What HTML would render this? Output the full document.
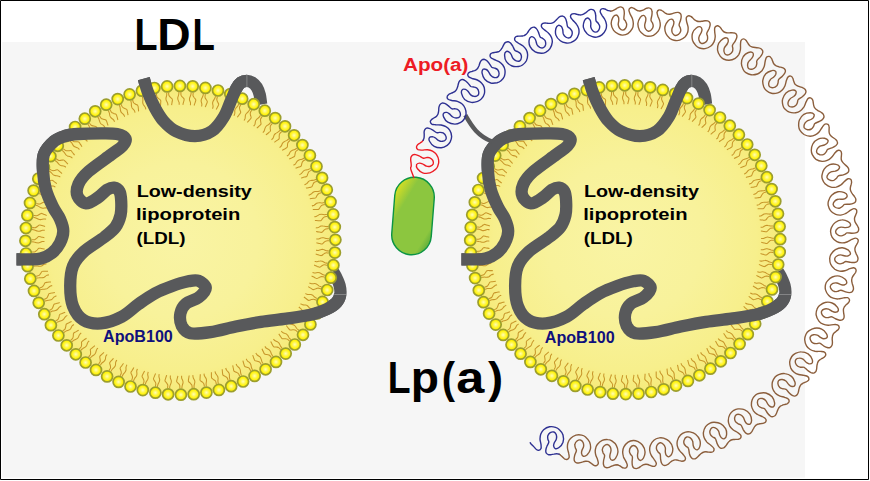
<!DOCTYPE html>
<html lang="en"><head><meta charset="utf-8"><title>LDL and Lp(a)</title>
<style>html,body{margin:0;padding:0;background:#fff}body{width:870px;height:481px;overflow:hidden}svg{display:block}text{font-family:"Liberation Sans",sans-serif;font-weight:bold}</style></head><body>
<svg width="870" height="481" viewBox="0 0 870 481">
<defs>
<radialGradient id="bead" cx="0.5" cy="0.5" r="0.5"><stop offset="0" stop-color="#fffcb8"/><stop offset="0.45" stop-color="#fff646"/><stop offset="0.8" stop-color="#fff200"/><stop offset="1" stop-color="#f2e600"/></radialGradient>
<radialGradient id="discL" cx="0.5" cy="0.5" r="0.5"><stop offset="0" stop-color="#f9f4a4"/><stop offset="0.5" stop-color="#f8f29b"/><stop offset="0.85" stop-color="#f7ef8c"/><stop offset="1" stop-color="#f6ea78"/></radialGradient>
<radialGradient id="discR" cx="0.5" cy="0.5" r="0.5"><stop offset="0" stop-color="#f9f4a4"/><stop offset="0.5" stop-color="#f8f29b"/><stop offset="0.85" stop-color="#f7ef8c"/><stop offset="1" stop-color="#f6ea78"/></radialGradient>
<linearGradient id="oval" x1="0" y1="0" x2="1" y2="1"><stop offset="0.05" stop-color="#e4e51c"/><stop offset="0.16" stop-color="#c0d72c"/><stop offset="0.3" stop-color="#8cc63f"/><stop offset="0.8" stop-color="#8cc63f"/><stop offset="0.95" stop-color="#4ea53b"/></linearGradient>
</defs>
<rect x="0" y="0" width="870" height="481" fill="#fff"/>
<rect x="2.3" y="42" width="802.7" height="435.6" fill="#f6f6f6"/>
<g>
<path d="M16.5 259.3C21 259.3 25.9 259.5 30 259.4C34.1 259.3 37.3 259.6 41 258.5C44.7 257.4 48.8 255.6 52 253C55.2 250.4 58.1 246.7 60 243C61.9 239.3 63.3 235 63.3 231C63.3 227 61.7 223 60 219C58.3 215 55.3 211.8 53 207C50.7 202.2 47.7 196.1 46 190C44.3 183.9 43.3 176.6 43 170.6C42.7 164.6 42.1 158.9 44 154C45.9 149.1 50.9 144 54.4 141C57.9 138 61.1 137.2 65 136C68.9 134.8 72 134.4 78 134C84 133.6 94.6 133.4 101.1 133.4C107.6 133.4 112.9 133.2 117 134C121.1 134.8 124.6 136.5 125.5 138.5C126.4 140.5 124.9 143.3 122.5 146C120.1 148.7 117 150.2 111.3 154.5C105.6 158.8 94 166.6 88.5 171.5C83 176.4 80.3 179.9 78.5 184C76.7 188.1 76.2 192.8 77.5 196C78.8 199.2 82.6 203.2 86 203.4C89.4 203.7 94.5 199.8 98 197.5C101.5 195.2 104.3 191.5 107 189.8C109.7 188.2 111.9 187.3 114 187.6C116.1 187.9 118.3 189.3 119.5 191.5C120.7 193.7 121 197.1 121.2 201C121.4 204.9 121.5 210.7 120.6 215C119.6 219.3 118.2 223.3 115.5 227C112.8 230.7 109.8 232.9 104.5 237C99.2 241.1 89.2 246.7 84 251.5C78.8 256.3 75.3 260.2 73 266C70.7 271.8 70.2 279.3 70.2 286C70.2 292.7 70.8 300.5 73 306.2C75.2 311.9 78.7 317.1 83.4 320C88.1 322.9 94.7 323.9 101.1 323.4C107.5 322.8 115.5 319.9 121.7 316.7C127.9 313.5 132.8 308.1 138.3 304.2C143.9 300.3 149.4 296.3 155 293.3C160.6 290.3 166.1 288.2 171.7 286.2C177.2 284.2 183.8 282.2 188.3 281.3C192.8 280.4 195.6 279.7 198.5 280.8C201.4 281.9 205.8 285.2 205.8 288C205.8 290.8 201.8 294.9 198.5 297.5C195.2 300.1 189 301 186 303.6C183 306.2 181.1 309.6 180.4 313.3C179.7 317 180.2 322.7 181.8 326C183.5 329.3 185.5 332.2 190.3 333.2C195.1 334.2 203 333.2 210.6 332.1C218.2 331 227.5 328.2 235.9 326.5C244.3 324.8 252.7 323.1 261.1 321.8C269.5 320.5 278 319.8 286.4 318.6C294.8 317.4 304.9 316.1 311.7 314.5C318.5 312.9 322.9 311 327 309C331.1 307 334.3 304.9 336.5 302.5C338.7 300.1 339.8 297.2 340.3 294.4C340.8 291.6 340.3 288.4 339.6 285.5C338.9 282.6 337.1 279 336 276.7C334.9 274.4 334 273.2 333 271.5" fill="none" stroke="#58595b" stroke-width="12.3"/>
<path d="M143.8 78.6C145.1 83.1 145.9 87.1 147.8 92C149.7 96.9 152.4 103.2 155 108C157.6 112.8 160 117.1 163.5 121C167 124.9 170.8 128.8 176 131.3C181.2 133.8 189 136.2 195 136.2C201 136.1 207.2 134.2 212 131C216.8 127.8 220.7 122 223.8 117C226.9 112 228.7 105.8 230.8 101C232.9 96.2 234.6 91.6 236.3 88.5C238 85.4 239.2 83.9 241 82.6C242.8 81.3 245 80.8 246.8 80.8C248.6 80.8 250.3 81.3 252 82.4C253.7 83.5 255.5 85.2 256.8 87.3C258.1 89.4 259.1 92.1 259.8 95C260.5 97.9 260.7 101.3 261.2 104.5" fill="none" stroke="#58595b" stroke-width="12.3"/>
<ellipse cx="180.4" cy="240.3" rx="155" ry="154.4" fill="url(#discL)"/>
<path d="M329.2 238.8C328.3 238.8 327.6 238.8 326.7 238.6C325.8 238.5 324.6 237.9 323.8 237.8C322.9 237.6 322.5 237.6 321.7 237.8C320.8 238 319.6 238.7 318.8 239C317.9 239.2 317.1 239 316.3 239.1M329.2 240.8C328.2 240.9 327 240.7 326.2 240.9C325.3 241.1 324.8 241.7 324.2 242.2C323.5 242.8 322.9 243.7 322.2 244C321.4 244.2 320.6 243.8 319.7 243.6C318.7 243.4 317.5 243 316.4 242.8M328.8 251.1C328 250.9 327.2 250.9 326.3 250.7C325.4 250.4 324.3 249.8 323.5 249.6C322.7 249.3 322.2 249.3 321.4 249.4C320.5 249.5 319.3 250.2 318.4 250.4C317.5 250.5 316.8 250.3 316 250.3M328.6 253.1C327.6 253 326.5 252.7 325.6 252.9C324.8 253.1 324.2 253.6 323.5 254.1C322.8 254.5 322.2 255.5 321.4 255.6C320.6 255.8 319.9 255.3 318.9 255C318 254.7 316.8 254.3 315.7 254M327.4 263.3C326.6 263.1 325.8 263 325 262.7C324.1 262.3 323 261.6 322.2 261.3C321.4 261 321 260.9 320.1 261C319.3 261 318 261.6 317.1 261.7C316.2 261.7 315.5 261.5 314.7 261.4M327.1 265.2C326.1 265.1 325 264.7 324.1 264.8C323.2 264.9 322.6 265.4 321.9 265.8C321.2 266.2 320.4 267.1 319.6 267.2C318.9 267.3 318.2 266.7 317.2 266.4C316.3 266 315.1 265.5 314.1 265M325 275.3C324.2 275 323.4 274.9 322.6 274.5C321.8 274.1 320.8 273.2 320 272.9C319.2 272.6 318.8 272.4 318 272.4C317.1 272.4 315.8 272.9 314.8 272.9C313.9 272.8 313.3 272.5 312.5 272.4M324.5 277.2C323.5 277 322.4 276.5 321.6 276.5C320.7 276.6 320.1 277 319.3 277.4C318.5 277.7 317.7 278.5 316.9 278.5C316.2 278.6 315.5 278 314.6 277.5C313.7 277.1 312.6 276.5 311.6 276M321.6 287.1C320.8 286.7 320.1 286.5 319.3 286.1C318.5 285.6 317.6 284.7 316.8 284.3C316.1 283.9 315.7 283.7 314.8 283.6C314 283.5 312.6 283.9 311.7 283.8C310.8 283.7 310.2 283.4 309.4 283.1M321 288.9C320 288.6 319 288.1 318.1 288C317.2 288 316.6 288.4 315.8 288.7C315 288.9 314.1 289.7 313.3 289.6C312.5 289.6 311.9 288.9 311.1 288.4C310.2 287.9 309.1 287.2 308.2 286.6M317.2 298.5C316.5 298.1 315.8 297.9 315 297.3C314.3 296.8 313.4 295.8 312.7 295.3C312 294.9 311.6 294.7 310.8 294.5C309.9 294.4 308.5 294.6 307.6 294.5C306.7 294.3 306.1 293.9 305.4 293.6M316.4 300.3C315.5 300 314.5 299.3 313.7 299.2C312.8 299.1 312.1 299.4 311.3 299.6C310.5 299.8 309.5 300.5 308.8 300.4C308 300.3 307.4 299.6 306.6 299C305.8 298.5 304.8 297.7 303.9 297M311.9 309.6C311.2 309.1 310.5 308.8 309.8 308.2C309.1 307.6 308.4 306.6 307.7 306C307 305.5 306.7 305.3 305.8 305.1C305 304.8 303.6 305 302.7 304.7C301.8 304.5 301.3 304 300.5 303.7M311 311.3C310.1 310.9 309.2 310.1 308.3 310C307.5 309.8 306.8 310.1 305.9 310.2C305.1 310.3 304.1 310.9 303.4 310.8C302.6 310.6 302.1 309.9 301.3 309.2C300.6 308.6 299.6 307.7 298.8 307M305.8 320.2C305.1 319.7 304.4 319.3 303.8 318.6C303.1 318 302.4 316.9 301.8 316.3C301.2 315.7 300.9 315.4 300 315.2C299.2 314.9 297.8 314.9 297 314.6C296.1 314.3 295.6 313.8 294.9 313.4M304.7 321.8C303.8 321.3 302.9 320.5 302.1 320.2C301.3 320 300.5 320.2 299.7 320.3C298.9 320.4 297.8 320.9 297.1 320.6C296.3 320.4 295.9 319.6 295.2 318.9C294.5 318.2 293.6 317.3 292.9 316.5M298.7 330.2C298.1 329.6 297.5 329.2 296.8 328.5C296.2 327.8 295.7 326.7 295.1 326C294.5 325.4 294.2 325.1 293.4 324.7C292.7 324.4 291.2 324.3 290.4 323.9C289.6 323.6 289.1 323 288.4 322.5M297.5 331.8C296.7 331.2 295.9 330.3 295.1 330C294.3 329.7 293.5 329.8 292.7 329.8C291.8 329.8 290.8 330.2 290 330C289.3 329.7 288.9 328.9 288.3 328.1C287.7 327.4 286.9 326.3 286.2 325.5M290.9 339.6C290.3 339 289.7 338.5 289.1 337.8C288.6 337.1 288.1 335.8 287.6 335.2C287.1 334.5 286.8 334.2 286 333.8C285.3 333.3 283.9 333.1 283.1 332.7C282.3 332.3 281.9 331.7 281.3 331.1M289.5 341.1C288.8 340.4 288 339.5 287.3 339.1C286.5 338.7 285.7 338.8 284.9 338.8C284 338.7 282.9 339 282.2 338.7C281.5 338.3 281.2 337.5 280.7 336.7C280.1 335.9 279.4 334.8 278.8 333.9M282.2 348.4C281.7 347.7 281.2 347.2 280.7 346.4C280.2 345.6 279.8 344.4 279.4 343.7C278.9 343 278.7 342.6 277.9 342.1C277.2 341.7 275.8 341.3 275.1 340.8C274.3 340.3 273.9 339.7 273.4 339.1M280.8 349.7C280.1 349 279.4 348 278.7 347.6C278 347.1 277.2 347.2 276.3 347C275.5 346.9 274.4 347.1 273.7 346.7C273.1 346.3 272.8 345.5 272.3 344.6C271.8 343.8 271.2 342.6 270.7 341.6M272.9 356.4C272.5 355.7 272 355.1 271.6 354.3C271.1 353.5 270.9 352.2 270.5 351.5C270.1 350.7 269.8 350.3 269.2 349.8C268.5 349.3 267.1 348.8 266.4 348.3C265.7 347.7 265.4 347.1 264.9 346.4M271.4 357.6C270.7 356.8 270.2 355.8 269.5 355.3C268.8 354.8 268 354.8 267.2 354.6C266.4 354.3 265.2 354.5 264.6 354C264 353.6 263.8 352.7 263.4 351.8C262.9 350.9 262.4 349.8 262 348.7M263 363.6C262.6 362.9 262.1 362.3 261.8 361.4C261.5 360.6 261.3 359.3 260.9 358.5C260.6 357.7 260.4 357.3 259.8 356.7C259.2 356.2 257.9 355.6 257.2 355C256.5 354.4 256.3 353.7 255.8 353M261.3 364.7C260.8 363.9 260.3 362.8 259.6 362.2C259 361.7 258.2 361.6 257.4 361.3C256.6 361 255.5 361.1 254.9 360.6C254.3 360.1 254.2 359.2 253.8 358.3C253.5 357.3 253.1 356.1 252.7 355.1M252.5 370C252.2 369.2 251.7 368.6 251.5 367.7C251.2 366.8 251.1 365.5 250.9 364.7C250.6 363.9 250.4 363.5 249.9 362.9C249.3 362.2 248 361.6 247.4 360.9C246.8 360.2 246.6 359.5 246.2 358.9M250.7 370.9C250.3 370.1 249.9 369 249.3 368.3C248.7 367.7 247.9 367.6 247.1 367.2C246.4 366.9 245.2 366.8 244.7 366.3C244.1 365.7 244.1 364.8 243.8 363.9C243.5 363 243.2 361.7 242.9 360.6M241.5 375.5C241.2 374.7 240.9 374 240.7 373.1C240.5 372.2 240.5 370.9 240.3 370.1C240.1 369.3 240 368.9 239.5 368.2C239 367.5 237.8 366.7 237.2 366C236.6 365.3 236.5 364.6 236.1 363.9M239.7 376.3C239.3 375.4 239 374.2 238.4 373.6C237.9 372.9 237.1 372.7 236.4 372.3C235.6 371.9 234.5 371.7 234 371.1C233.5 370.5 233.6 369.7 233.4 368.7C233.1 367.7 233 366.5 232.7 365.4M230.1 380C229.9 379.2 229.6 378.5 229.5 377.6C229.3 376.7 229.5 375.4 229.4 374.6C229.2 373.8 229.1 373.3 228.7 372.6C228.2 371.9 227.1 371 226.6 370.3C226.1 369.5 226 368.8 225.7 368M228.2 380.7C227.9 379.8 227.7 378.6 227.2 377.9C226.7 377.2 225.9 376.9 225.2 376.4C224.5 376 223.4 375.7 223 375.1C222.5 374.5 222.7 373.6 222.5 372.6C222.4 371.6 222.3 370.4 222.2 369.2M218.3 383.7C218.2 382.8 218 382.1 217.9 381.2C217.9 380.3 218.1 379 218.1 378.2C218 377.3 217.9 376.9 217.5 376.1C217.1 375.4 216.1 374.4 215.7 373.6C215.2 372.8 215.2 372.1 215 371.3M216.4 384.2C216.1 383.2 216 382 215.6 381.3C215.2 380.5 214.5 380.2 213.8 379.7C213.1 379.1 212.1 378.8 211.7 378.1C211.3 377.5 211.5 376.6 211.4 375.6C211.4 374.6 211.4 373.4 211.4 372.2M206.3 386.3C206.3 385.5 206.1 384.7 206.1 383.8C206.1 382.9 206.5 381.6 206.5 380.8C206.5 379.9 206.5 379.5 206.2 378.7C205.8 377.9 204.9 376.9 204.5 376.1C204.1 375.2 204.2 374.5 204 373.7M204.4 386.6C204.2 385.6 204.2 384.5 203.8 383.7C203.4 382.9 202.8 382.5 202.1 381.9C201.5 381.4 200.5 381 200.1 380.2C199.8 379.5 200.1 378.7 200.1 377.7C200.1 376.7 200.3 375.5 200.3 374.3M194.1 387.9C194.1 387.1 194 386.3 194.1 385.4C194.2 384.5 194.7 383.3 194.8 382.5C194.9 381.6 194.9 381.2 194.6 380.4C194.3 379.6 193.4 378.4 193.2 377.6C192.9 376.7 193 376 192.8 375.2M192.2 388.1C192.1 387.1 192.2 385.9 191.8 385.1C191.5 384.3 190.9 383.9 190.3 383.2C189.8 382.6 188.7 382.1 188.5 381.4C188.2 380.7 188.5 379.9 188.6 378.9C188.8 377.9 189 376.6 189.2 375.5M181.9 388.6C181.9 387.7 181.9 387 182.1 386.1C182.2 385.2 182.8 384 183 383.2C183.1 382.3 183.1 381.9 182.9 381.1C182.7 380.2 182 379 181.7 378.2C181.5 377.3 181.7 376.6 181.6 375.8M179.9 388.6C179.8 387.6 180 386.4 179.8 385.6C179.6 384.7 179 384.2 178.5 383.6C177.9 382.9 177 382.3 176.7 381.6C176.5 380.8 176.9 380 177.1 379.1C177.3 378.1 177.7 376.9 177.9 375.8M169.6 388.2C169.7 387.3 169.7 386.6 170 385.7C170.2 384.8 170.9 383.7 171.1 382.9C171.3 382.1 171.4 381.6 171.3 380.8C171.1 379.9 170.5 378.7 170.3 377.8C170.2 376.9 170.4 376.2 170.4 375.4M167.6 388C167.6 387 167.9 385.9 167.8 385C167.6 384.2 167 383.6 166.6 382.9C166.1 382.2 165.2 381.6 165 380.8C164.9 380 165.4 379.3 165.6 378.3C165.9 377.4 166.4 376.2 166.7 375.1M157.4 386.8C157.6 386 157.6 385.2 158 384.3C158.3 383.5 159 382.4 159.3 381.6C159.6 380.8 159.7 380.4 159.7 379.6C159.6 378.7 159 377.4 158.9 376.5C158.9 375.6 159.1 374.9 159.2 374.1M155.4 386.4C155.5 385.5 155.9 384.3 155.8 383.5C155.7 382.6 155.2 382 154.8 381.3C154.4 380.6 153.6 379.8 153.5 379C153.4 378.3 153.9 377.6 154.3 376.6C154.6 375.7 155.1 374.6 155.6 373.5M145.3 384.4C145.6 383.6 145.7 382.8 146.1 382C146.5 381.2 147.3 380.2 147.7 379.4C148 378.6 148.2 378.2 148.2 377.4C148.2 376.5 147.7 375.2 147.7 374.3C147.7 373.4 148.1 372.7 148.2 371.9M143.4 383.9C143.6 382.9 144.1 381.8 144 381C144 380.1 143.5 379.5 143.2 378.7C142.9 377.9 142.1 377.1 142.1 376.4C142 375.6 142.6 374.9 143 374C143.5 373.1 144.1 372 144.6 371M133.5 381C133.8 380.2 134 379.5 134.5 378.7C134.9 377.9 135.9 377 136.3 376.2C136.7 375.5 136.9 375.1 136.9 374.3C137 373.4 136.7 372 136.7 371.1C136.8 370.2 137.2 369.6 137.4 368.8M131.6 380.4C131.9 379.4 132.5 378.4 132.5 377.5C132.6 376.6 132.1 376 131.9 375.2C131.6 374.4 130.9 373.5 130.9 372.7C130.9 372 131.6 371.3 132.1 370.5C132.6 369.6 133.3 368.6 133.9 367.6M122 376.7C122.4 375.9 122.6 375.2 123.2 374.4C123.7 373.7 124.7 372.8 125.1 372.1C125.6 371.4 125.8 371.1 126 370.2C126.1 369.4 125.9 368 126 367.1C126.2 366.2 126.6 365.6 126.9 364.8M120.1 375.9C120.5 374.9 121.2 373.9 121.3 373.1C121.4 372.2 121.1 371.5 120.9 370.7C120.7 369.9 120 369 120.1 368.2C120.2 367.4 120.9 366.9 121.5 366.1C122 365.3 122.8 364.3 123.5 363.4M110.9 371.4C111.3 370.7 111.7 370 112.2 369.3C112.8 368.6 113.9 367.8 114.4 367.1C114.9 366.5 115.2 366.1 115.4 365.3C115.6 364.5 115.5 363.1 115.7 362.2C116 361.3 116.4 360.7 116.8 360M109.1 370.4C109.6 369.5 110.3 368.6 110.5 367.8C110.7 366.9 110.4 366.2 110.3 365.4C110.1 364.5 109.5 363.6 109.7 362.8C109.9 362 110.6 361.6 111.2 360.8C111.9 360 112.8 359.1 113.5 358.3M100.3 365.2C100.8 364.6 101.1 363.9 101.8 363.2C102.4 362.6 103.5 361.9 104.1 361.3C104.7 360.7 105 360.3 105.3 359.5C105.6 358.7 105.5 357.3 105.8 356.4C106.1 355.6 106.7 355.1 107.1 354.4M98.6 364.1C99.1 363.3 99.9 362.4 100.2 361.6C100.4 360.8 100.2 360 100.1 359.2C100.1 358.3 99.6 357.3 99.8 356.6C100 355.8 100.8 355.4 101.5 354.7C102.2 354 103.1 353.1 104 352.4M90.2 358.2C90.7 357.6 91.2 356.9 91.9 356.3C92.6 355.7 93.7 355.2 94.4 354.6C95 354 95.3 353.7 95.6 352.9C96 352.2 96.1 350.7 96.5 349.9C96.8 349.1 97.4 348.6 97.9 348M88.6 357C89.2 356.2 90.1 355.4 90.4 354.6C90.7 353.8 90.5 353 90.6 352.2C90.6 351.3 90.1 350.3 90.4 349.5C90.7 348.8 91.5 348.5 92.3 347.8C93 347.2 94.1 346.4 94.9 345.7M80.7 350.4C81.3 349.8 81.8 349.2 82.6 348.7C83.3 348.1 84.5 347.6 85.2 347.1C85.9 346.6 86.2 346.3 86.6 345.6C87 344.8 87.2 343.4 87.7 342.6C88.1 341.8 88.7 341.4 89.2 340.8M79.2 349C79.9 348.3 80.8 347.5 81.2 346.8C81.6 346 81.5 345.2 81.6 344.4C81.7 343.6 81.3 342.5 81.7 341.8C82 341.1 82.9 340.8 83.7 340.2C84.5 339.6 85.6 338.9 86.5 338.3M71.9 341.8C72.6 341.3 73.1 340.7 73.9 340.2C74.7 339.8 75.9 339.4 76.7 338.9C77.4 338.5 77.7 338.2 78.2 337.5C78.7 336.8 79 335.4 79.5 334.7C80 333.9 80.6 333.5 81.2 332.9M70.6 340.3C71.3 339.6 72.3 339 72.7 338.2C73.2 337.5 73.2 336.7 73.3 335.9C73.4 335.1 73.2 334 73.6 333.3C74 332.6 74.9 332.4 75.7 331.9C76.6 331.4 77.7 330.8 78.7 330.2M63.9 332.5C64.6 332.1 65.2 331.5 66 331.1C66.8 330.7 68.1 330.4 68.8 330.1C69.6 329.7 70 329.4 70.5 328.8C71 328.1 71.5 326.7 72 326C72.6 325.3 73.3 325 73.9 324.5M62.7 330.9C63.4 330.3 64.5 329.8 65 329.1C65.5 328.4 65.5 327.6 65.7 326.8C66 325.9 65.8 324.8 66.3 324.2C66.7 323.6 67.6 323.4 68.5 323C69.4 322.5 70.6 322 71.6 321.6M56.6 322.6C57.4 322.2 58 321.7 58.9 321.4C59.7 321.1 61 320.9 61.8 320.6C62.6 320.2 62.9 320 63.5 319.4C64.1 318.8 64.7 317.5 65.3 316.8C65.9 316.2 66.6 315.9 67.3 315.4M55.5 320.9C56.4 320.4 57.5 319.9 58 319.3C58.6 318.6 58.7 317.8 59 317C59.2 316.2 59.2 315.1 59.7 314.5C60.2 313.9 61.1 313.8 62 313.5C62.9 313.1 64.2 312.7 65.2 312.3M50.3 312.1C51 311.8 51.7 311.4 52.5 311.1C53.4 310.9 54.7 310.8 55.5 310.5C56.3 310.3 56.7 310.1 57.4 309.5C58 309 58.7 307.7 59.4 307.1C60 306.5 60.7 306.3 61.4 305.9M49.3 310.4C50.2 309.9 51.3 309.5 51.9 308.9C52.5 308.3 52.7 307.5 53 306.8C53.4 306 53.4 304.9 54 304.3C54.5 303.8 55.4 303.8 56.4 303.5C57.3 303.2 58.6 302.9 59.7 302.6M44.7 301.2C45.5 300.9 46.2 300.6 47.1 300.4C48 300.2 49.3 300.2 50.1 300C51 299.8 51.4 299.7 52.1 299.2C52.7 298.6 53.5 297.5 54.2 296.9C55 296.3 55.7 296.2 56.4 295.8M43.9 299.4C44.8 298.9 46 298.7 46.7 298.1C47.3 297.6 47.5 296.8 47.9 296.1C48.4 295.3 48.5 294.2 49.1 293.7C49.7 293.2 50.6 293.3 51.5 293.1C52.5 292.8 53.8 292.7 54.9 292.5M40.2 289.8C41 289.6 41.7 289.3 42.6 289.2C43.5 289.1 44.8 289.2 45.6 289.1C46.5 289 46.9 288.9 47.6 288.4C48.3 287.9 49.2 286.8 50 286.3C50.7 285.8 51.5 285.7 52.2 285.4M39.5 287.9C40.4 287.6 41.6 287.4 42.3 286.9C43 286.4 43.3 285.7 43.8 285C44.2 284.3 44.5 283.2 45.1 282.7C45.8 282.3 46.6 282.4 47.6 282.3C48.6 282.1 49.9 282.1 51 281.9M36.5 278.1C37.4 278 38.1 277.7 39 277.7C39.9 277.6 41.2 277.9 42.1 277.8C42.9 277.8 43.3 277.7 44.1 277.3C44.8 276.9 45.8 275.9 46.6 275.4C47.4 275 48.1 275 48.9 274.7M36 276.2C37 275.9 38.2 275.8 38.9 275.4C39.7 275 40 274.2 40.5 273.6C41.1 272.9 41.4 271.8 42.1 271.4C42.7 271 43.6 271.2 44.6 271.2C45.6 271.2 46.9 271.2 48 271.2M33.9 266.1C34.7 266.1 35.5 265.9 36.4 265.9C37.3 266 38.6 266.3 39.4 266.3C40.3 266.3 40.7 266.3 41.5 266C42.3 265.6 43.3 264.7 44.2 264.3C45 263.9 45.7 264 46.5 263.8M33.6 264.2C34.5 264 35.7 264 36.5 263.6C37.3 263.3 37.7 262.6 38.3 262C38.8 261.3 39.2 260.3 40 259.9C40.7 259.6 41.5 259.9 42.5 259.9C43.5 260 44.8 260.1 45.9 260.2M32.2 254C33.1 254 33.8 253.9 34.8 254C35.7 254.1 36.9 254.6 37.7 254.6C38.6 254.7 39 254.7 39.8 254.5C40.7 254.2 41.8 253.3 42.6 253C43.5 252.7 44.2 252.8 45 252.7M32.1 252C33.1 251.9 34.3 252 35.1 251.7C35.9 251.4 36.3 250.8 37 250.2C37.6 249.6 38.1 248.6 38.8 248.3C39.5 248 40.4 248.4 41.3 248.5C42.3 248.6 43.6 248.9 44.7 249M31.6 241.8C32.5 241.8 33.2 241.8 34.1 242C35 242.1 36.2 242.7 37 242.8C37.9 243 38.3 243 39.1 242.8C40 242.6 41.2 241.9 42 241.6C42.9 241.4 43.7 241.6 44.5 241.5M31.6 239.8C32.6 239.7 33.8 239.9 34.6 239.7C35.5 239.5 36 238.9 36.6 238.4C37.3 237.8 37.9 236.9 38.6 236.6C39.4 236.4 40.2 236.8 41.1 237C42.1 237.2 43.3 237.6 44.4 237.8M32 229.5C32.8 229.7 33.6 229.7 34.5 229.9C35.4 230.2 36.5 230.8 37.3 231C38.1 231.3 38.6 231.3 39.4 231.2C40.3 231.1 41.5 230.4 42.4 230.2C43.3 230.1 44 230.3 44.8 230.3M32.2 227.5C33.2 227.6 34.3 227.9 35.2 227.7C36 227.5 36.6 227 37.3 226.5C38 226.1 38.6 225.1 39.4 225C40.2 224.8 40.9 225.3 41.9 225.6C42.8 225.9 44 226.3 45.1 226.6M33.4 217.3C34.2 217.5 35 217.6 35.8 217.9C36.7 218.3 37.8 219 38.6 219.3C39.4 219.6 39.8 219.7 40.7 219.6C41.5 219.6 42.8 219 43.7 218.9C44.6 218.9 45.3 219.1 46.1 219.2M33.7 215.4C34.7 215.5 35.8 215.9 36.7 215.8C37.6 215.7 38.2 215.2 38.9 214.8C39.6 214.4 40.4 213.5 41.2 213.4C41.9 213.3 42.6 213.9 43.6 214.2C44.5 214.6 45.7 215.1 46.7 215.6M35.8 205.3C36.6 205.6 37.4 205.7 38.2 206.1C39 206.5 40 207.4 40.8 207.7C41.6 208 42 208.2 42.8 208.2C43.7 208.2 45 207.7 46 207.7C46.9 207.8 47.5 208.1 48.3 208.2M36.3 203.4C37.3 203.6 38.4 204.1 39.2 204.1C40.1 204 40.7 203.6 41.5 203.2C42.3 202.9 43.1 202.1 43.9 202.1C44.6 202 45.3 202.6 46.2 203.1C47.1 203.5 48.2 204.1 49.2 204.6M39.2 193.5C40 193.9 40.7 194.1 41.5 194.5C42.3 195 43.2 195.9 44 196.3C44.7 196.7 45.1 196.9 46 197C46.8 197.1 48.2 196.7 49.1 196.8C50 196.9 50.6 197.2 51.4 197.5M39.8 191.7C40.8 192 41.8 192.5 42.7 192.6C43.6 192.6 44.2 192.2 45 191.9C45.8 191.7 46.7 190.9 47.5 191C48.3 191 48.9 191.7 49.7 192.2C50.6 192.7 51.7 193.4 52.6 194M43.6 182.1C44.3 182.5 45 182.7 45.8 183.3C46.5 183.8 47.4 184.8 48.1 185.3C48.8 185.7 49.2 185.9 50 186.1C50.9 186.2 52.3 186 53.2 186.1C54.1 186.3 54.7 186.7 55.4 187M44.4 180.3C45.3 180.6 46.3 181.3 47.1 181.4C48 181.5 48.7 181.2 49.5 181C50.3 180.8 51.3 180.1 52 180.2C52.8 180.3 53.4 181 54.2 181.6C55 182.1 56 182.9 56.9 183.6M48.9 171C49.6 171.5 50.3 171.8 51 172.4C51.7 173 52.4 174 53.1 174.6C53.8 175.1 54.1 175.3 55 175.5C55.8 175.8 57.2 175.6 58.1 175.9C59 176.1 59.5 176.6 60.3 176.9M49.8 169.3C50.7 169.7 51.6 170.5 52.5 170.6C53.3 170.8 54 170.5 54.9 170.4C55.7 170.3 56.7 169.7 57.4 169.8C58.2 170 58.7 170.7 59.5 171.4C60.2 172 61.2 172.9 62 173.6M55 160.4C55.7 160.9 56.4 161.3 57 162C57.7 162.6 58.4 163.7 59 164.3C59.6 164.9 59.9 165.2 60.8 165.4C61.6 165.7 63 165.7 63.8 166C64.7 166.3 65.2 166.8 65.9 167.2M56.1 158.8C57 159.3 57.9 160.1 58.7 160.4C59.5 160.6 60.3 160.4 61.1 160.3C61.9 160.2 63 159.7 63.7 160C64.5 160.2 64.9 161 65.6 161.7C66.3 162.4 67.2 163.3 67.9 164.1M62.1 150.4C62.7 151 63.3 151.4 64 152.1C64.6 152.8 65.1 153.9 65.7 154.6C66.3 155.2 66.6 155.5 67.4 155.9C68.1 156.2 69.6 156.3 70.4 156.7C71.2 157 71.7 157.6 72.4 158.1M63.3 148.8C64.1 149.4 64.9 150.3 65.7 150.6C66.5 150.9 67.3 150.8 68.1 150.8C69 150.8 70 150.4 70.8 150.6C71.5 150.9 71.9 151.7 72.5 152.5C73.1 153.2 73.9 154.3 74.6 155.1M69.9 141C70.5 141.6 71.1 142.1 71.7 142.8C72.2 143.5 72.7 144.8 73.2 145.4C73.7 146.1 74 146.4 74.8 146.8C75.5 147.3 76.9 147.5 77.7 147.9C78.5 148.3 78.9 148.9 79.5 149.5M71.3 139.5C72 140.2 72.8 141.1 73.5 141.5C74.3 141.9 75.1 141.8 75.9 141.8C76.8 141.9 77.9 141.6 78.6 141.9C79.3 142.3 79.6 143.1 80.1 143.9C80.7 144.7 81.4 145.8 82 146.7M78.6 132.2C79.1 132.9 79.6 133.4 80.1 134.2C80.6 135 81 136.2 81.4 136.9C81.9 137.6 82.1 138 82.9 138.5C83.6 138.9 85 139.3 85.7 139.8C86.5 140.3 86.9 140.9 87.4 141.5M80 130.9C80.7 131.6 81.4 132.6 82.1 133C82.8 133.5 83.6 133.4 84.5 133.6C85.3 133.7 86.4 133.5 87.1 133.9C87.7 134.3 88 135.1 88.5 136C89 136.8 89.6 138 90.1 139M87.9 124.2C88.3 124.9 88.8 125.5 89.2 126.3C89.7 127.1 89.9 128.4 90.3 129.1C90.7 129.9 91 130.3 91.6 130.8C92.3 131.3 93.7 131.8 94.4 132.3C95.1 132.9 95.4 133.5 95.9 134.2M89.4 123C90.1 123.8 90.6 124.8 91.3 125.3C92 125.8 92.8 125.8 93.6 126C94.4 126.3 95.6 126.1 96.2 126.6C96.8 127 97 127.9 97.4 128.8C97.9 129.7 98.4 130.8 98.8 131.9M97.8 117C98.2 117.7 98.7 118.3 99 119.2C99.3 120 99.5 121.3 99.9 122.1C100.2 122.9 100.4 123.3 101 123.9C101.6 124.4 102.9 125 103.6 125.6C104.3 126.2 104.5 126.9 105 127.6M99.5 115.9C100 116.7 100.5 117.8 101.2 118.4C101.8 118.9 102.6 119 103.4 119.3C104.2 119.6 105.3 119.5 105.9 120C106.5 120.5 106.6 121.4 107 122.3C107.3 123.3 107.7 124.5 108.1 125.5M108.3 110.6C108.6 111.4 109.1 112 109.3 112.9C109.6 113.8 109.7 115.1 109.9 115.9C110.2 116.7 110.4 117.1 110.9 117.7C111.5 118.4 112.8 119 113.4 119.7C114 120.4 114.2 121.1 114.6 121.7M110.1 109.7C110.5 110.5 110.9 111.6 111.5 112.3C112.1 112.9 112.9 113 113.7 113.4C114.4 113.7 115.6 113.8 116.1 114.3C116.7 114.9 116.7 115.8 117 116.7C117.3 117.6 117.6 118.9 117.9 120M119.3 105.1C119.6 105.9 119.9 106.6 120.1 107.5C120.3 108.4 120.3 109.7 120.5 110.5C120.7 111.3 120.8 111.7 121.3 112.4C121.8 113.1 123 113.9 123.6 114.6C124.2 115.3 124.3 116 124.7 116.7M121.1 104.3C121.5 105.2 121.8 106.4 122.4 107C122.9 107.7 123.7 107.9 124.4 108.3C125.2 108.7 126.3 108.9 126.8 109.5C127.3 110.1 127.2 110.9 127.4 111.9C127.7 112.9 127.8 114.1 128.1 115.2M130.7 100.6C130.9 101.4 131.2 102.1 131.3 103C131.5 103.9 131.3 105.2 131.4 106C131.6 106.8 131.7 107.3 132.1 108C132.6 108.7 133.7 109.6 134.2 110.3C134.7 111.1 134.8 111.8 135.1 112.6M132.6 99.9C132.9 100.8 133.1 102 133.6 102.7C134.1 103.4 134.9 103.7 135.6 104.2C136.3 104.6 137.4 104.9 137.8 105.5C138.3 106.1 138.1 107 138.3 108C138.4 109 138.5 110.2 138.6 111.4M142.5 96.9C142.6 97.8 142.8 98.5 142.9 99.4C142.9 100.3 142.7 101.6 142.7 102.4C142.8 103.3 142.9 103.7 143.3 104.5C143.7 105.2 144.7 106.2 145.1 107C145.6 107.8 145.6 108.5 145.8 109.3M144.4 96.4C144.7 97.4 144.8 98.6 145.2 99.3C145.6 100.1 146.3 100.4 147 100.9C147.7 101.5 148.7 101.8 149.1 102.5C149.5 103.1 149.3 104 149.4 105C149.4 106 149.4 107.2 149.4 108.4M154.5 94.3C154.5 95.1 154.7 95.9 154.7 96.8C154.7 97.7 154.3 99 154.3 99.8C154.3 100.7 154.3 101.1 154.6 101.9C155 102.7 155.9 103.7 156.3 104.5C156.7 105.4 156.6 106.1 156.8 106.9M156.4 94C156.6 95 156.6 96.1 157 96.9C157.4 97.7 158 98.1 158.7 98.7C159.3 99.2 160.3 99.6 160.7 100.4C161 101.1 160.7 101.9 160.7 102.9C160.7 103.9 160.5 105.1 160.5 106.3M166.7 92.7C166.7 93.5 166.8 94.3 166.7 95.2C166.6 96.1 166.1 97.3 166 98.1C165.9 99 165.9 99.4 166.2 100.2C166.5 101 167.4 102.2 167.6 103C167.9 103.9 167.8 104.6 168 105.4M168.6 92.5C168.7 93.5 168.6 94.7 169 95.5C169.3 96.3 169.9 96.7 170.5 97.4C171 98 172.1 98.5 172.3 99.2C172.6 99.9 172.3 100.7 172.2 101.7C172 102.7 171.8 104 171.6 105.1M178.9 92C178.9 92.9 178.9 93.6 178.7 94.5C178.6 95.4 178 96.6 177.8 97.4C177.7 98.3 177.7 98.7 177.9 99.5C178.1 100.4 178.8 101.6 179.1 102.4C179.3 103.3 179.1 104 179.2 104.8M180.9 92C181 93 180.8 94.2 181 95C181.2 95.9 181.8 96.4 182.3 97C182.9 97.7 183.8 98.3 184.1 99C184.3 99.8 183.9 100.6 183.7 101.5C183.5 102.5 183.1 103.7 182.9 104.8M191.2 92.4C191.1 93.3 191.1 94 190.8 94.9C190.6 95.8 189.9 96.9 189.7 97.7C189.5 98.5 189.4 99 189.5 99.8C189.7 100.7 190.3 101.9 190.5 102.8C190.6 103.7 190.4 104.4 190.4 105.2M193.2 92.6C193.2 93.6 192.9 94.7 193 95.6C193.2 96.4 193.8 97 194.2 97.7C194.7 98.4 195.6 99 195.8 99.8C195.9 100.6 195.4 101.3 195.2 102.3C194.9 103.2 194.4 104.4 194.1 105.5M203.4 93.8C203.2 94.6 203.2 95.4 202.8 96.3C202.5 97.1 201.8 98.2 201.5 99C201.2 99.8 201.1 100.2 201.1 101C201.2 101.9 201.8 103.2 201.9 104.1C201.9 105 201.7 105.7 201.6 106.5M205.4 94.2C205.3 95.1 204.9 96.3 205 97.1C205.1 98 205.6 98.6 206 99.3C206.4 100 207.2 100.8 207.3 101.6C207.4 102.3 206.9 103 206.5 104C206.2 104.9 205.7 106 205.2 107.1M215.5 96.2C215.2 97 215.1 97.8 214.7 98.6C214.3 99.4 213.5 100.4 213.1 101.2C212.8 102 212.6 102.4 212.6 103.2C212.6 104.1 213.1 105.4 213.1 106.3C213.1 107.2 212.7 107.9 212.6 108.7M217.4 96.7C217.2 97.7 216.7 98.8 216.8 99.6C216.8 100.5 217.3 101.1 217.6 101.9C217.9 102.7 218.7 103.5 218.7 104.2C218.8 105 218.2 105.7 217.8 106.6C217.3 107.5 216.7 108.6 216.2 109.6M227.3 99.6C227 100.4 226.8 101.1 226.3 101.9C225.9 102.7 224.9 103.6 224.5 104.4C224.1 105.1 223.9 105.5 223.9 106.3C223.8 107.2 224.1 108.6 224.1 109.5C224 110.4 223.6 111 223.4 111.8M229.2 100.2C228.9 101.2 228.3 102.2 228.3 103.1C228.2 104 228.7 104.6 228.9 105.4C229.2 106.2 229.9 107.1 229.9 107.9C229.9 108.6 229.2 109.3 228.7 110.1C228.2 111 227.5 112 226.9 113M238.8 103.9C238.4 104.7 238.2 105.4 237.6 106.2C237.1 106.9 236.1 107.8 235.7 108.5C235.2 109.2 235 109.5 234.8 110.4C234.7 111.2 234.9 112.6 234.8 113.5C234.6 114.4 234.2 115 233.9 115.8M240.7 104.7C240.3 105.7 239.6 106.7 239.5 107.5C239.4 108.4 239.7 109.1 239.9 109.9C240.1 110.7 240.8 111.6 240.7 112.4C240.6 113.2 239.9 113.7 239.3 114.5C238.8 115.3 238 116.3 237.3 117.2M249.9 109.2C249.5 109.9 249.1 110.6 248.6 111.3C248 112 246.9 112.8 246.4 113.5C245.9 114.1 245.6 114.5 245.4 115.3C245.2 116.1 245.3 117.5 245.1 118.4C244.8 119.3 244.4 119.9 244 120.6M251.7 110.2C251.2 111.1 250.5 112 250.3 112.8C250.1 113.7 250.4 114.4 250.5 115.2C250.7 116.1 251.3 117 251.1 117.8C250.9 118.6 250.2 119 249.6 119.8C248.9 120.6 248 121.5 247.3 122.3M260.5 115.4C260 116 259.7 116.7 259 117.4C258.4 118 257.3 118.7 256.7 119.3C256.1 119.9 255.8 120.3 255.5 121.1C255.2 121.9 255.3 123.3 255 124.2C254.7 125 254.1 125.5 253.7 126.2M262.2 116.5C261.7 117.3 260.9 118.2 260.6 119C260.4 119.8 260.6 120.6 260.7 121.4C260.7 122.3 261.2 123.3 261 124C260.8 124.8 260 125.2 259.3 125.9C258.6 126.6 257.7 127.5 256.8 128.2M270.6 122.4C270.1 123 269.6 123.7 268.9 124.3C268.2 124.9 267.1 125.4 266.4 126C265.8 126.6 265.5 126.9 265.2 127.7C264.8 128.4 264.7 129.9 264.3 130.7C264 131.5 263.4 132 262.9 132.6M272.2 123.6C271.6 124.4 270.7 125.2 270.4 126C270.1 126.8 270.3 127.6 270.2 128.4C270.2 129.3 270.7 130.3 270.4 131.1C270.1 131.8 269.3 132.1 268.5 132.8C267.8 133.4 266.7 134.2 265.9 134.9M280.1 130.2C279.5 130.8 279 131.4 278.2 131.9C277.5 132.5 276.3 133 275.6 133.5C274.9 134 274.6 134.3 274.2 135C273.8 135.8 273.6 137.2 273.1 138C272.7 138.8 272.1 139.2 271.6 139.8M281.6 131.6C280.9 132.3 280 133.1 279.6 133.8C279.2 134.6 279.3 135.4 279.2 136.2C279.1 137 279.5 138.1 279.1 138.8C278.8 139.5 277.9 139.8 277.1 140.4C276.3 141 275.2 141.7 274.3 142.3M288.9 138.8C288.2 139.3 287.7 139.9 286.9 140.4C286.1 140.8 284.9 141.2 284.1 141.7C283.4 142.1 283.1 142.4 282.6 143.1C282.1 143.8 281.8 145.2 281.3 145.9C280.8 146.7 280.2 147.1 279.6 147.7M290.2 140.3C289.5 141 288.5 141.6 288.1 142.4C287.6 143.1 287.6 143.9 287.5 144.7C287.4 145.5 287.6 146.6 287.2 147.3C286.8 148 285.9 148.2 285.1 148.7C284.2 149.2 283.1 149.8 282.1 150.4M296.9 148.1C296.2 148.5 295.6 149.1 294.8 149.5C294 149.9 292.7 150.2 292 150.5C291.2 150.9 290.8 151.2 290.3 151.8C289.8 152.5 289.3 153.9 288.8 154.6C288.2 155.3 287.5 155.6 286.9 156.1M298.1 149.7C297.4 150.3 296.3 150.8 295.8 151.5C295.3 152.2 295.3 153 295.1 153.8C294.8 154.7 295 155.8 294.5 156.4C294.1 157 293.2 157.2 292.3 157.6C291.4 158.1 290.2 158.6 289.2 159M304.2 158C303.4 158.4 302.8 158.9 301.9 159.2C301.1 159.5 299.8 159.7 299 160C298.2 160.4 297.9 160.6 297.3 161.2C296.7 161.8 296.1 163.1 295.5 163.8C294.9 164.4 294.2 164.7 293.5 165.2M305.3 159.7C304.4 160.2 303.3 160.7 302.8 161.3C302.2 162 302.1 162.8 301.8 163.6C301.6 164.4 301.6 165.5 301.1 166.1C300.6 166.7 299.7 166.8 298.8 167.1C297.9 167.5 296.6 167.9 295.6 168.3M310.5 168.5C309.8 168.8 309.1 169.2 308.3 169.5C307.4 169.7 306.1 169.8 305.3 170.1C304.5 170.3 304.1 170.5 303.4 171.1C302.8 171.6 302.1 172.9 301.4 173.5C300.8 174.1 300.1 174.3 299.4 174.7M311.5 170.2C310.6 170.7 309.5 171.1 308.9 171.7C308.3 172.3 308.1 173.1 307.8 173.8C307.4 174.6 307.4 175.7 306.8 176.3C306.3 176.8 305.4 176.8 304.4 177.1C303.5 177.4 302.2 177.7 301.1 178M316.1 179.4C315.3 179.7 314.6 180 313.7 180.2C312.8 180.4 311.5 180.4 310.7 180.6C309.8 180.8 309.4 180.9 308.7 181.4C308.1 182 307.3 183.1 306.6 183.7C305.8 184.3 305.1 184.4 304.4 184.8M316.9 181.2C316 181.7 314.8 181.9 314.1 182.5C313.5 183 313.3 183.8 312.9 184.5C312.4 185.3 312.3 186.4 311.7 186.9C311.1 187.4 310.2 187.3 309.3 187.5C308.3 187.8 307 187.9 305.9 188.1M320.6 190.8C319.8 191 319.1 191.3 318.2 191.4C317.3 191.5 316 191.4 315.2 191.5C314.3 191.6 313.9 191.7 313.2 192.2C312.5 192.7 311.6 193.8 310.8 194.3C310.1 194.8 309.3 194.9 308.6 195.2M321.3 192.7C320.4 193 319.2 193.2 318.5 193.7C317.8 194.2 317.5 194.9 317 195.6C316.6 196.3 316.3 197.4 315.7 197.9C315 198.3 314.2 198.2 313.2 198.3C312.2 198.5 310.9 198.5 309.8 198.7M324.3 202.5C323.4 202.6 322.7 202.9 321.8 202.9C320.9 203 319.6 202.7 318.7 202.8C317.9 202.8 317.5 202.9 316.7 203.3C316 203.7 315 204.7 314.2 205.2C313.4 205.6 312.7 205.6 311.9 205.9M324.8 204.4C323.8 204.7 322.6 204.8 321.9 205.2C321.1 205.6 320.8 206.4 320.3 207C319.7 207.7 319.4 208.8 318.7 209.2C318.1 209.6 317.2 209.4 316.2 209.4C315.2 209.4 313.9 209.4 312.8 209.4M326.9 214.5C326.1 214.5 325.3 214.7 324.4 214.7C323.5 214.6 322.2 214.3 321.4 214.3C320.5 214.3 320.1 214.3 319.3 214.6C318.5 215 317.5 215.9 316.6 216.3C315.8 216.7 315.1 216.6 314.3 216.8M327.2 216.4C326.3 216.6 325.1 216.6 324.3 217C323.5 217.3 323.1 218 322.5 218.6C322 219.3 321.6 220.3 320.8 220.7C320.1 221 319.3 220.7 318.3 220.7C317.3 220.6 316 220.5 314.9 220.4M328.6 226.6C327.7 226.6 327 226.7 326 226.6C325.1 226.5 323.9 226 323.1 226C322.2 225.9 321.8 225.9 321 226.1C320.1 226.4 319 227.3 318.2 227.6C317.3 227.9 316.6 227.8 315.8 227.9M328.7 228.6C327.7 228.7 326.5 228.6 325.7 228.9C324.9 229.2 324.5 229.8 323.8 230.4C323.2 231 322.7 232 322 232.3C321.3 232.6 320.4 232.2 319.5 232.1C318.5 232 317.2 231.7 316.1 231.6" fill="none" stroke="#c8962a" stroke-width="1.05" stroke-linejoin="round"/>
<circle cx="335.4" cy="239.8" r="5.5" fill="url(#bead)" stroke="#9c9e2d" stroke-width="1.7"/>
<circle cx="334.9" cy="252.6" r="5.5" fill="url(#bead)" stroke="#9c9e2d" stroke-width="1.7"/>
<circle cx="333.4" cy="265.2" r="5.5" fill="url(#bead)" stroke="#9c9e2d" stroke-width="1.7"/>
<circle cx="330.8" cy="277.7" r="5.5" fill="url(#bead)" stroke="#9c9e2d" stroke-width="1.7"/>
<circle cx="327.2" cy="290" r="5.5" fill="url(#bead)" stroke="#9c9e2d" stroke-width="1.7"/>
<circle cx="322.5" cy="301.9" r="5.5" fill="url(#bead)" stroke="#9c9e2d" stroke-width="1.7"/>
<circle cx="316.9" cy="313.4" r="5.5" fill="url(#bead)" stroke="#9c9e2d" stroke-width="1.7"/>
<circle cx="310.4" cy="324.4" r="5.5" fill="url(#bead)" stroke="#9c9e2d" stroke-width="1.7"/>
<circle cx="303" cy="334.8" r="5.5" fill="url(#bead)" stroke="#9c9e2d" stroke-width="1.7"/>
<circle cx="294.8" cy="344.5" r="5.5" fill="url(#bead)" stroke="#9c9e2d" stroke-width="1.7"/>
<circle cx="285.7" cy="353.6" r="5.5" fill="url(#bead)" stroke="#9c9e2d" stroke-width="1.7"/>
<circle cx="276" cy="361.9" r="5.5" fill="url(#bead)" stroke="#9c9e2d" stroke-width="1.7"/>
<circle cx="265.6" cy="369.3" r="5.5" fill="url(#bead)" stroke="#9c9e2d" stroke-width="1.7"/>
<circle cx="254.6" cy="375.9" r="5.5" fill="url(#bead)" stroke="#9c9e2d" stroke-width="1.7"/>
<circle cx="243.1" cy="381.5" r="5.5" fill="url(#bead)" stroke="#9c9e2d" stroke-width="1.7"/>
<circle cx="231.2" cy="386.2" r="5.5" fill="url(#bead)" stroke="#9c9e2d" stroke-width="1.7"/>
<circle cx="218.9" cy="389.9" r="5.5" fill="url(#bead)" stroke="#9c9e2d" stroke-width="1.7"/>
<circle cx="206.4" cy="392.6" r="5.5" fill="url(#bead)" stroke="#9c9e2d" stroke-width="1.7"/>
<circle cx="193.7" cy="394.2" r="5.5" fill="url(#bead)" stroke="#9c9e2d" stroke-width="1.7"/>
<circle cx="180.9" cy="394.7" r="5.5" fill="url(#bead)" stroke="#9c9e2d" stroke-width="1.7"/>
<circle cx="168.1" cy="394.3" r="5.5" fill="url(#bead)" stroke="#9c9e2d" stroke-width="1.7"/>
<circle cx="155.4" cy="392.7" r="5.5" fill="url(#bead)" stroke="#9c9e2d" stroke-width="1.7"/>
<circle cx="142.8" cy="390.1" r="5.5" fill="url(#bead)" stroke="#9c9e2d" stroke-width="1.7"/>
<circle cx="130.5" cy="386.5" r="5.5" fill="url(#bead)" stroke="#9c9e2d" stroke-width="1.7"/>
<circle cx="118.6" cy="381.9" r="5.5" fill="url(#bead)" stroke="#9c9e2d" stroke-width="1.7"/>
<circle cx="107.1" cy="376.4" r="5.5" fill="url(#bead)" stroke="#9c9e2d" stroke-width="1.7"/>
<circle cx="96" cy="369.9" r="5.5" fill="url(#bead)" stroke="#9c9e2d" stroke-width="1.7"/>
<circle cx="85.6" cy="362.5" r="5.5" fill="url(#bead)" stroke="#9c9e2d" stroke-width="1.7"/>
<circle cx="75.8" cy="354.3" r="5.5" fill="url(#bead)" stroke="#9c9e2d" stroke-width="1.7"/>
<circle cx="66.7" cy="345.3" r="5.5" fill="url(#bead)" stroke="#9c9e2d" stroke-width="1.7"/>
<circle cx="58.4" cy="335.5" r="5.5" fill="url(#bead)" stroke="#9c9e2d" stroke-width="1.7"/>
<circle cx="50.9" cy="325.2" r="5.5" fill="url(#bead)" stroke="#9c9e2d" stroke-width="1.7"/>
<circle cx="44.3" cy="314.2" r="5.5" fill="url(#bead)" stroke="#9c9e2d" stroke-width="1.7"/>
<circle cx="38.7" cy="302.8" r="5.5" fill="url(#bead)" stroke="#9c9e2d" stroke-width="1.7"/>
<circle cx="34" cy="290.9" r="5.5" fill="url(#bead)" stroke="#9c9e2d" stroke-width="1.7"/>
<circle cx="30.3" cy="278.7" r="5.5" fill="url(#bead)" stroke="#9c9e2d" stroke-width="1.7"/>
<circle cx="27.6" cy="266.2" r="5.5" fill="url(#bead)" stroke="#9c9e2d" stroke-width="1.7"/>
<circle cx="26" cy="253.5" r="5.5" fill="url(#bead)" stroke="#9c9e2d" stroke-width="1.7"/>
<circle cx="25.4" cy="240.8" r="5.5" fill="url(#bead)" stroke="#9c9e2d" stroke-width="1.7"/>
<circle cx="25.9" cy="228" r="5.5" fill="url(#bead)" stroke="#9c9e2d" stroke-width="1.7"/>
<circle cx="27.4" cy="215.4" r="5.5" fill="url(#bead)" stroke="#9c9e2d" stroke-width="1.7"/>
<circle cx="30" cy="202.9" r="5.5" fill="url(#bead)" stroke="#9c9e2d" stroke-width="1.7"/>
<circle cx="33.6" cy="190.6" r="5.5" fill="url(#bead)" stroke="#9c9e2d" stroke-width="1.7"/>
<circle cx="38.3" cy="178.7" r="5.5" fill="url(#bead)" stroke="#9c9e2d" stroke-width="1.7"/>
<circle cx="43.9" cy="167.2" r="5.5" fill="url(#bead)" stroke="#9c9e2d" stroke-width="1.7"/>
<circle cx="50.4" cy="156.2" r="5.5" fill="url(#bead)" stroke="#9c9e2d" stroke-width="1.7"/>
<circle cx="57.8" cy="145.8" r="5.5" fill="url(#bead)" stroke="#9c9e2d" stroke-width="1.7"/>
<circle cx="66" cy="136.1" r="5.5" fill="url(#bead)" stroke="#9c9e2d" stroke-width="1.7"/>
<circle cx="75.1" cy="127" r="5.5" fill="url(#bead)" stroke="#9c9e2d" stroke-width="1.7"/>
<circle cx="84.8" cy="118.7" r="5.5" fill="url(#bead)" stroke="#9c9e2d" stroke-width="1.7"/>
<circle cx="95.2" cy="111.3" r="5.5" fill="url(#bead)" stroke="#9c9e2d" stroke-width="1.7"/>
<circle cx="106.2" cy="104.7" r="5.5" fill="url(#bead)" stroke="#9c9e2d" stroke-width="1.7"/>
<circle cx="117.7" cy="99.1" r="5.5" fill="url(#bead)" stroke="#9c9e2d" stroke-width="1.7"/>
<circle cx="129.6" cy="94.4" r="5.5" fill="url(#bead)" stroke="#9c9e2d" stroke-width="1.7"/>
<circle cx="141.9" cy="90.7" r="5.5" fill="url(#bead)" stroke="#9c9e2d" stroke-width="1.7"/>
<circle cx="154.4" cy="88" r="5.5" fill="url(#bead)" stroke="#9c9e2d" stroke-width="1.7"/>
<circle cx="167.1" cy="86.4" r="5.5" fill="url(#bead)" stroke="#9c9e2d" stroke-width="1.7"/>
<circle cx="179.9" cy="85.9" r="5.5" fill="url(#bead)" stroke="#9c9e2d" stroke-width="1.7"/>
<circle cx="192.7" cy="86.3" r="5.5" fill="url(#bead)" stroke="#9c9e2d" stroke-width="1.7"/>
<circle cx="205.4" cy="87.9" r="5.5" fill="url(#bead)" stroke="#9c9e2d" stroke-width="1.7"/>
<circle cx="218" cy="90.5" r="5.5" fill="url(#bead)" stroke="#9c9e2d" stroke-width="1.7"/>
<circle cx="230.3" cy="94.1" r="5.5" fill="url(#bead)" stroke="#9c9e2d" stroke-width="1.7"/>
<circle cx="242.2" cy="98.7" r="5.5" fill="url(#bead)" stroke="#9c9e2d" stroke-width="1.7"/>
<circle cx="253.7" cy="104.2" r="5.5" fill="url(#bead)" stroke="#9c9e2d" stroke-width="1.7"/>
<circle cx="264.8" cy="110.7" r="5.5" fill="url(#bead)" stroke="#9c9e2d" stroke-width="1.7"/>
<circle cx="275.2" cy="118.1" r="5.5" fill="url(#bead)" stroke="#9c9e2d" stroke-width="1.7"/>
<circle cx="285" cy="126.3" r="5.5" fill="url(#bead)" stroke="#9c9e2d" stroke-width="1.7"/>
<circle cx="294.1" cy="135.3" r="5.5" fill="url(#bead)" stroke="#9c9e2d" stroke-width="1.7"/>
<circle cx="302.4" cy="145.1" r="5.5" fill="url(#bead)" stroke="#9c9e2d" stroke-width="1.7"/>
<circle cx="309.9" cy="155.4" r="5.5" fill="url(#bead)" stroke="#9c9e2d" stroke-width="1.7"/>
<circle cx="316.5" cy="166.4" r="5.5" fill="url(#bead)" stroke="#9c9e2d" stroke-width="1.7"/>
<circle cx="322.1" cy="177.8" r="5.5" fill="url(#bead)" stroke="#9c9e2d" stroke-width="1.7"/>
<circle cx="326.8" cy="189.7" r="5.5" fill="url(#bead)" stroke="#9c9e2d" stroke-width="1.7"/>
<circle cx="330.5" cy="201.9" r="5.5" fill="url(#bead)" stroke="#9c9e2d" stroke-width="1.7"/>
<circle cx="333.2" cy="214.4" r="5.5" fill="url(#bead)" stroke="#9c9e2d" stroke-width="1.7"/>
<circle cx="334.8" cy="227.1" r="5.5" fill="url(#bead)" stroke="#9c9e2d" stroke-width="1.7"/>
<path d="M16.5 259.3C21 259.3 25.9 259.5 30 259.4C34.1 259.3 37.3 259.6 41 258.5C44.7 257.4 48.8 255.6 52 253C55.2 250.4 58.1 246.7 60 243C61.9 239.3 63.3 235 63.3 231C63.3 227 61.7 223 60 219C58.3 215 55.3 211.8 53 207C50.7 202.2 47.7 196.1 46 190C44.3 183.9 43.3 176.6 43 170.6C42.7 164.6 42.1 158.9 44 154C45.9 149.1 50.9 144 54.4 141C57.9 138 61.1 137.2 65 136C68.9 134.8 72 134.4 78 134C84 133.6 94.6 133.4 101.1 133.4C107.6 133.4 112.9 133.2 117 134C121.1 134.8 124.6 136.5 125.5 138.5C126.4 140.5 124.9 143.3 122.5 146C120.1 148.7 117 150.2 111.3 154.5C105.6 158.8 94 166.6 88.5 171.5C83 176.4 80.3 179.9 78.5 184C76.7 188.1 76.2 192.8 77.5 196C78.8 199.2 82.6 203.2 86 203.4C89.4 203.7 94.5 199.8 98 197.5C101.5 195.2 104.3 191.5 107 189.8C109.7 188.2 111.9 187.3 114 187.6C116.1 187.9 118.3 189.3 119.5 191.5C120.7 193.7 121 197.1 121.2 201C121.4 204.9 121.5 210.7 120.6 215C119.6 219.3 118.2 223.3 115.5 227C112.8 230.7 109.8 232.9 104.5 237C99.2 241.1 89.2 246.7 84 251.5C78.8 256.3 75.3 260.2 73 266C70.7 271.8 70.2 279.3 70.2 286C70.2 292.7 70.8 300.5 73 306.2C75.2 311.9 78.7 317.1 83.4 320C88.1 322.9 94.7 323.9 101.1 323.4C107.5 322.8 115.5 319.9 121.7 316.7C127.9 313.5 132.8 308.1 138.3 304.2C143.9 300.3 149.4 296.3 155 293.3C160.6 290.3 166.1 288.2 171.7 286.2C177.2 284.2 183.8 282.2 188.3 281.3C192.8 280.4 195.6 279.7 198.5 280.8C201.4 281.9 205.8 285.2 205.8 288C205.8 290.8 201.8 294.9 198.5 297.5C195.2 300.1 189 301 186 303.6C183 306.2 181.1 309.6 180.4 313.3C179.7 317 180.2 322.7 181.8 326C183.5 329.3 185.5 332.2 190.3 333.2C195.1 334.2 203 333.2 210.6 332.1C218.2 331 227.5 328.2 235.9 326.5C244.3 324.8 252.7 323.1 261.1 321.8C269.5 320.5 278 319.8 286.4 318.6C294.8 317.4 304.9 316.1 311.7 314.5C318.5 312.9 322.9 311 327 309C331.1 307 334.3 304.9 336.5 302.5C338.7 300.1 339.8 297.2 340.3 294.4" fill="none" stroke="#58595b" stroke-width="12.3"/>
<path d="M143.8 78.6C145.1 83.1 145.9 87.1 147.8 92C149.7 96.9 152.4 103.2 155 108C157.6 112.8 160 117.1 163.5 121C167 124.9 170.8 128.8 176 131.3C181.2 133.8 189 136.2 195 136.2C201 136.1 207.2 134.2 212 131C216.8 127.8 220.7 122 223.8 117C226.9 112 228.7 105.8 230.8 101C232.9 96.2 234.6 91.6 236.3 88.5C238 85.4 239.2 83.9 241 82.6C242.8 81.3 245 80.8 246.8 80.8" fill="none" stroke="#58595b" stroke-width="12.3"/>
<path d="M246.9 74.8V87M334.3 294.5H346.6" fill="none" stroke="#a2a3a5" stroke-width="0.6"/>
</g>
<g>
<path d="M461.4 259.3C465.9 259.3 470.8 259.5 474.9 259.4C479 259.3 482.2 259.6 485.9 258.5C489.6 257.4 493.7 255.6 496.9 253C500.1 250.4 503 246.7 504.9 243C506.8 239.3 508.2 235 508.2 231C508.2 227 506.6 223 504.9 219C503.2 215 500.2 211.8 497.9 207C495.6 202.2 492.6 196.1 490.9 190C489.2 183.9 488.2 176.6 487.9 170.6C487.6 164.6 487 158.9 488.9 154C490.8 149.1 495.8 144 499.3 141C502.8 138 506 137.2 509.9 136C513.8 134.8 516.9 134.4 522.9 134C528.9 133.6 539.5 133.4 546 133.4C552.5 133.4 557.8 133.2 561.9 134C566 134.8 569.5 136.5 570.4 138.5C571.3 140.5 569.8 143.3 567.4 146C565 148.7 561.9 150.2 556.2 154.5C550.5 158.8 538.9 166.6 533.4 171.5C527.9 176.4 525.2 179.9 523.4 184C521.6 188.1 521.1 192.8 522.4 196C523.6 199.2 527.5 203.2 530.9 203.4C534.3 203.7 539.4 199.8 542.9 197.5C546.4 195.2 549.2 191.5 551.9 189.8C554.6 188.2 556.8 187.3 558.9 187.6C561 187.9 563.2 189.3 564.4 191.5C565.6 193.7 565.9 197.1 566.1 201C566.3 204.9 566.5 210.7 565.5 215C564.5 219.3 563.1 223.3 560.4 227C557.7 230.7 554.6 232.9 549.4 237C544.1 241.1 534.1 246.7 528.9 251.5C523.6 256.3 520.2 260.2 517.9 266C515.6 271.8 515.1 279.3 515.1 286C515.1 292.7 515.7 300.5 517.9 306.2C520.1 311.9 523.6 317.1 528.3 320C533 322.9 539.6 323.9 546 323.4C552.4 322.8 560.4 319.9 566.6 316.7C572.8 313.5 577.7 308.1 583.2 304.2C588.8 300.3 594.3 296.3 599.9 293.3C605.5 290.3 611 288.2 616.6 286.2C622.1 284.2 628.7 282.2 633.2 281.3C637.7 280.4 640.5 279.7 643.4 280.8C646.3 281.9 650.7 285.2 650.7 288C650.7 290.8 646.7 294.9 643.4 297.5C640.1 300.1 633.9 301 630.9 303.6C627.9 306.2 626 309.6 625.3 313.3C624.6 317 625.1 322.7 626.7 326C628.4 329.3 630.4 332.2 635.2 333.2C640 334.2 647.9 333.2 655.5 332.1C663.1 331 672.4 328.2 680.8 326.5C689.2 324.8 697.6 323.1 706 321.8C714.4 320.5 722.9 319.8 731.3 318.6C739.7 317.4 749.8 316.1 756.6 314.5C763.4 312.9 767.8 311 771.9 309C776 307 779.2 304.9 781.4 302.5C783.6 300.1 784.7 297.2 785.2 294.4C785.7 291.6 785.2 288.4 784.5 285.5C783.8 282.6 782 279 780.9 276.7C779.8 274.4 778.9 273.2 777.9 271.5" fill="none" stroke="#58595b" stroke-width="12.3"/>
<path d="M588.7 78.6C590 83.1 590.8 87.1 592.7 92C594.6 96.9 597.3 103.2 599.9 108C602.5 112.8 604.9 117.1 608.4 121C611.9 124.9 615.6 128.8 620.9 131.3C626.1 133.8 633.9 136.2 639.9 136.2C645.9 136.1 652.1 134.2 656.9 131C661.7 127.8 665.6 122 668.7 117C671.8 112 673.6 105.8 675.7 101C677.8 96.2 679.5 91.6 681.2 88.5C682.9 85.4 684.1 83.9 685.9 82.6C687.6 81.3 689.9 80.8 691.7 80.8C693.5 80.8 695.2 81.3 696.9 82.4C698.6 83.5 700.4 85.2 701.7 87.3C703 89.4 704 92.1 704.7 95C705.4 97.9 705.6 101.3 706.1 104.5" fill="none" stroke="#58595b" stroke-width="12.3"/>
<ellipse cx="625.2" cy="239.7" rx="155" ry="154.4" fill="url(#discR)"/>
<path d="M774 238.2C773.1 238.2 772.4 238.2 771.5 238C770.6 237.9 769.4 237.3 768.6 237.2C767.7 237 767.3 237 766.5 237.2C765.6 237.4 764.4 238.1 763.6 238.4C762.7 238.6 761.9 238.4 761.1 238.5M774 240.2C773 240.3 771.8 240.1 771 240.3C770.1 240.5 769.6 241.1 769 241.6C768.3 242.2 767.7 243.1 767 243.4C766.2 243.6 765.4 243.2 764.5 243C763.5 242.8 762.3 242.4 761.2 242.2M773.6 250.5C772.8 250.3 772 250.3 771.1 250.1C770.2 249.8 769.1 249.2 768.3 249C767.5 248.7 767 248.7 766.2 248.8C765.3 248.9 764.1 249.6 763.2 249.8C762.3 249.9 761.6 249.7 760.8 249.7M773.4 252.5C772.4 252.4 771.3 252.1 770.4 252.3C769.6 252.5 769 253 768.3 253.5C767.6 253.9 767 254.9 766.2 255C765.4 255.2 764.7 254.7 763.7 254.4C762.8 254.1 761.6 253.7 760.5 253.4M772.2 262.7C771.4 262.5 770.6 262.4 769.8 262.1C768.9 261.7 767.8 261 767 260.7C766.2 260.4 765.8 260.3 764.9 260.4C764.1 260.4 762.8 261 761.9 261.1C761 261.1 760.3 260.9 759.5 260.8M771.9 264.6C770.9 264.5 769.8 264.1 768.9 264.2C768 264.3 767.4 264.8 766.7 265.2C766 265.6 765.2 266.5 764.4 266.6C763.7 266.7 763 266.1 762 265.8C761.1 265.4 759.9 264.9 758.9 264.4M769.8 274.7C769 274.4 768.2 274.3 767.4 273.9C766.6 273.5 765.6 272.6 764.8 272.3C764 272 763.6 271.8 762.8 271.8C761.9 271.8 760.6 272.3 759.6 272.3C758.7 272.2 758.1 271.9 757.3 271.8M769.3 276.6C768.3 276.4 767.2 275.9 766.4 275.9C765.5 276 764.9 276.4 764.1 276.8C763.3 277.1 762.5 277.9 761.7 277.9C761 278 760.3 277.4 759.4 276.9C758.5 276.5 757.4 275.9 756.4 275.4M766.4 286.5C765.6 286.1 764.9 285.9 764.1 285.5C763.3 285 762.4 284.1 761.6 283.7C760.9 283.3 760.5 283.1 759.6 283C758.8 282.9 757.4 283.3 756.5 283.2C755.6 283.1 755 282.8 754.2 282.5M765.8 288.3C764.8 288 763.8 287.5 762.9 287.4C762 287.4 761.4 287.8 760.6 288.1C759.8 288.3 758.9 289.1 758.1 289C757.3 289 756.7 288.3 755.9 287.8C755 287.3 753.9 286.6 753 286M762 297.9C761.3 297.5 760.6 297.3 759.8 296.7C759.1 296.2 758.2 295.2 757.5 294.7C756.8 294.3 756.4 294.1 755.6 293.9C754.7 293.8 753.3 294 752.4 293.9C751.5 293.7 750.9 293.3 750.2 293M761.2 299.7C760.3 299.4 759.3 298.7 758.5 298.6C757.6 298.5 756.9 298.8 756.1 299C755.3 299.2 754.3 299.9 753.6 299.8C752.8 299.7 752.2 299 751.4 298.4C750.6 297.9 749.6 297.1 748.7 296.4M756.7 309C756 308.5 755.3 308.2 754.6 307.6C753.9 307 753.2 306 752.5 305.4C751.8 304.9 751.5 304.7 750.6 304.5C749.8 304.2 748.4 304.4 747.5 304.1C746.6 303.9 746.1 303.4 745.3 303.1M755.8 310.7C754.9 310.3 754 309.5 753.1 309.4C752.3 309.2 751.6 309.5 750.7 309.6C749.9 309.7 748.9 310.3 748.2 310.2C747.4 310 746.9 309.3 746.1 308.6C745.4 308 744.4 307.1 743.6 306.4M750.6 319.6C749.9 319.1 749.2 318.7 748.6 318C747.9 317.4 747.2 316.3 746.6 315.7C746 315.1 745.7 314.8 744.8 314.6C744 314.3 742.6 314.3 741.8 314C740.9 313.7 740.4 313.2 739.7 312.8M749.5 321.2C748.6 320.7 747.7 319.9 746.9 319.6C746.1 319.4 745.3 319.6 744.5 319.7C743.7 319.8 742.6 320.3 741.9 320C741.1 319.8 740.7 319 740 318.3C739.3 317.6 738.4 316.7 737.7 315.9M743.5 329.6C742.9 329 742.3 328.6 741.6 327.9C741 327.2 740.5 326.1 739.9 325.4C739.3 324.8 739 324.5 738.2 324.1C737.5 323.8 736 323.7 735.2 323.3C734.4 323 733.9 322.4 733.2 321.9M742.3 331.2C741.5 330.6 740.7 329.7 739.9 329.4C739.1 329.1 738.3 329.2 737.5 329.2C736.6 329.2 735.6 329.6 734.8 329.4C734.1 329.1 733.7 328.3 733.1 327.5C732.5 326.8 731.7 325.7 731 324.9M735.7 339C735.1 338.4 734.5 337.9 733.9 337.2C733.4 336.5 732.9 335.2 732.4 334.6C731.9 333.9 731.6 333.6 730.8 333.2C730.1 332.7 728.7 332.5 727.9 332.1C727.1 331.7 726.7 331.1 726.1 330.5M734.3 340.5C733.6 339.8 732.8 338.9 732.1 338.5C731.3 338.1 730.5 338.2 729.7 338.2C728.8 338.1 727.7 338.4 727 338.1C726.3 337.7 726 336.9 725.5 336.1C724.9 335.3 724.2 334.2 723.6 333.3M727 347.8C726.5 347.1 726 346.6 725.5 345.8C725 345 724.6 343.8 724.2 343.1C723.7 342.4 723.5 342 722.7 341.5C722 341.1 720.6 340.7 719.9 340.2C719.1 339.7 718.7 339.1 718.2 338.5M725.6 349.1C724.9 348.4 724.2 347.4 723.5 347C722.8 346.5 722 346.6 721.1 346.4C720.3 346.3 719.2 346.5 718.5 346.1C717.9 345.7 717.6 344.9 717.1 344C716.6 343.2 716 342 715.5 341M717.7 355.8C717.3 355.1 716.8 354.5 716.4 353.7C715.9 352.9 715.7 351.6 715.3 350.9C714.9 350.1 714.6 349.7 714 349.2C713.3 348.7 711.9 348.2 711.2 347.7C710.5 347.1 710.2 346.5 709.7 345.8M716.2 357C715.5 356.2 715 355.2 714.3 354.7C713.6 354.2 712.8 354.2 712 354C711.2 353.7 710 353.9 709.4 353.4C708.8 353 708.6 352.1 708.2 351.2C707.7 350.3 707.2 349.2 706.8 348.1M707.8 363C707.4 362.3 706.9 361.7 706.6 360.8C706.3 360 706.1 358.7 705.7 357.9C705.4 357.1 705.2 356.7 704.6 356.1C704 355.6 702.7 355 702 354.4C701.3 353.8 701.1 353.1 700.6 352.4M706.1 364.1C705.6 363.3 705.1 362.2 704.4 361.6C703.8 361.1 703 361 702.2 360.7C701.4 360.4 700.3 360.5 699.7 360C699.1 359.5 699 358.6 698.6 357.7C698.3 356.7 697.9 355.5 697.5 354.5M697.3 369.4C697 368.6 696.5 368 696.3 367.1C696 366.2 695.9 364.9 695.7 364.1C695.4 363.3 695.2 362.9 694.7 362.3C694.1 361.6 692.8 361 692.2 360.3C691.6 359.6 691.4 358.9 691 358.3M695.5 370.3C695.1 369.5 694.7 368.4 694.1 367.7C693.5 367.1 692.7 367 691.9 366.6C691.2 366.3 690 366.2 689.5 365.7C688.9 365.1 688.9 364.2 688.6 363.3C688.3 362.4 688 361.1 687.7 360M686.3 374.9C686 374.1 685.7 373.4 685.5 372.5C685.3 371.6 685.3 370.3 685.1 369.5C684.9 368.7 684.8 368.3 684.3 367.6C683.8 366.9 682.6 366.1 682 365.4C681.4 364.7 681.3 364 680.9 363.3M684.5 375.7C684.1 374.8 683.8 373.6 683.2 373C682.7 372.3 681.9 372.1 681.2 371.7C680.4 371.3 679.3 371.1 678.8 370.5C678.3 369.9 678.4 369.1 678.2 368.1C677.9 367.1 677.8 365.9 677.5 364.8M674.9 379.4C674.7 378.6 674.4 377.9 674.3 377C674.1 376.1 674.3 374.8 674.2 374C674 373.2 673.9 372.7 673.5 372C673 371.3 671.9 370.4 671.4 369.7C670.9 368.9 670.8 368.2 670.5 367.4M673 380.1C672.7 379.2 672.5 378 672 377.3C671.5 376.6 670.7 376.3 670 375.8C669.3 375.4 668.2 375.1 667.8 374.5C667.3 373.9 667.5 373 667.3 372C667.2 371 667.1 369.8 667 368.6M663.1 383.1C663 382.2 662.8 381.5 662.7 380.6C662.7 379.7 662.9 378.4 662.9 377.6C662.8 376.7 662.7 376.3 662.3 375.5C661.9 374.8 660.9 373.8 660.5 373C660 372.2 660 371.5 659.8 370.7M661.2 383.6C660.9 382.6 660.8 381.4 660.4 380.7C660 379.9 659.3 379.6 658.6 379.1C657.9 378.5 656.9 378.2 656.5 377.5C656.1 376.9 656.3 376 656.2 375C656.2 374 656.2 372.8 656.2 371.6M651.1 385.7C651.1 384.9 650.9 384.1 650.9 383.2C650.9 382.3 651.3 381 651.3 380.2C651.3 379.3 651.3 378.9 651 378.1C650.6 377.3 649.7 376.3 649.3 375.5C648.9 374.6 649 373.9 648.8 373.1M649.2 386C649 385 649 383.9 648.6 383.1C648.2 382.3 647.6 381.9 646.9 381.3C646.3 380.8 645.3 380.4 644.9 379.6C644.6 378.9 644.9 378.1 644.9 377.1C644.9 376.1 645.1 374.9 645.1 373.7M638.9 387.3C638.9 386.5 638.8 385.7 638.9 384.8C639 383.9 639.5 382.7 639.6 381.9C639.7 381 639.7 380.6 639.4 379.8C639.1 379 638.2 377.8 638 377C637.7 376.1 637.8 375.4 637.6 374.6M637 387.5C636.9 386.5 637 385.3 636.6 384.5C636.3 383.7 635.7 383.3 635.1 382.6C634.6 382 633.5 381.5 633.3 380.8C633 380.1 633.3 379.3 633.4 378.3C633.6 377.3 633.8 376 634 374.9M626.7 388C626.7 387.1 626.7 386.4 626.9 385.5C627 384.6 627.6 383.4 627.8 382.6C627.9 381.7 627.9 381.3 627.7 380.5C627.5 379.6 626.8 378.4 626.5 377.6C626.3 376.7 626.5 376 626.4 375.2M624.7 388C624.6 387 624.8 385.8 624.6 385C624.4 384.1 623.8 383.6 623.3 383C622.7 382.3 621.8 381.7 621.5 381C621.3 380.2 621.7 379.4 621.9 378.5C622.1 377.5 622.5 376.3 622.7 375.2M614.4 387.6C614.5 386.7 614.5 386 614.8 385.1C615 384.2 615.7 383.1 615.9 382.3C616.1 381.5 616.2 381 616.1 380.2C615.9 379.3 615.3 378.1 615.1 377.2C615 376.3 615.2 375.6 615.2 374.8M612.4 387.4C612.4 386.4 612.7 385.3 612.6 384.4C612.4 383.6 611.8 383 611.4 382.3C610.9 381.6 610 381 609.8 380.2C609.7 379.4 610.2 378.7 610.4 377.7C610.7 376.8 611.2 375.6 611.5 374.5M602.2 386.2C602.4 385.4 602.4 384.6 602.8 383.7C603.1 382.9 603.8 381.8 604.1 381C604.4 380.2 604.5 379.8 604.5 379C604.4 378.1 603.8 376.8 603.7 375.9C603.7 375 603.9 374.3 604 373.5M600.2 385.8C600.3 384.9 600.7 383.7 600.6 382.9C600.5 382 600 381.4 599.6 380.7C599.2 380 598.4 379.2 598.3 378.4C598.2 377.7 598.7 377 599.1 376C599.4 375.1 599.9 374 600.4 372.9M590.1 383.8C590.4 383 590.5 382.2 590.9 381.4C591.3 380.6 592.1 379.6 592.5 378.8C592.8 378 593 377.6 593 376.8C593 375.9 592.5 374.6 592.5 373.7C592.5 372.8 592.9 372.1 593 371.3M588.2 383.3C588.4 382.3 588.9 381.2 588.8 380.4C588.8 379.5 588.3 378.9 588 378.1C587.7 377.3 586.9 376.5 586.9 375.8C586.8 375 587.4 374.3 587.8 373.4C588.3 372.5 588.9 371.4 589.4 370.4M578.3 380.4C578.6 379.6 578.8 378.9 579.3 378.1C579.7 377.3 580.7 376.4 581.1 375.6C581.5 374.9 581.7 374.5 581.7 373.7C581.8 372.8 581.5 371.4 581.5 370.5C581.6 369.6 582 369 582.2 368.2M576.4 379.8C576.7 378.8 577.3 377.8 577.3 376.9C577.4 376 576.9 375.4 576.7 374.6C576.4 373.8 575.7 372.9 575.7 372.1C575.7 371.4 576.4 370.7 576.9 369.9C577.4 369 578.1 368 578.7 367M566.8 376.1C567.2 375.3 567.4 374.6 568 373.8C568.5 373.1 569.5 372.2 569.9 371.5C570.4 370.8 570.6 370.5 570.8 369.6C570.9 368.8 570.7 367.4 570.8 366.5C571 365.6 571.4 365 571.7 364.2M564.9 375.3C565.3 374.3 566 373.3 566.1 372.5C566.2 371.6 565.9 370.9 565.7 370.1C565.5 369.3 564.8 368.4 564.9 367.6C565 366.8 565.7 366.3 566.3 365.5C566.8 364.7 567.6 363.7 568.3 362.8M555.7 370.8C556.1 370.1 556.5 369.4 557 368.7C557.6 368 558.7 367.2 559.2 366.5C559.7 365.9 560 365.5 560.2 364.7C560.4 363.9 560.3 362.5 560.5 361.6C560.8 360.7 561.2 360.1 561.6 359.4M553.9 369.8C554.4 368.9 555.1 368 555.3 367.2C555.5 366.3 555.2 365.6 555.1 364.8C554.9 363.9 554.3 363 554.5 362.2C554.7 361.4 555.4 361 556 360.2C556.7 359.4 557.6 358.5 558.3 357.7M545.1 364.6C545.6 364 545.9 363.3 546.6 362.6C547.2 362 548.3 361.3 548.9 360.7C549.5 360.1 549.8 359.7 550.1 358.9C550.4 358.1 550.3 356.7 550.6 355.8C550.9 355 551.5 354.5 551.9 353.8M543.4 363.5C543.9 362.7 544.7 361.8 545 361C545.2 360.2 545 359.4 544.9 358.6C544.9 357.7 544.4 356.7 544.6 356C544.8 355.2 545.6 354.8 546.3 354.1C547 353.4 547.9 352.5 548.8 351.8M535 357.6C535.5 357 536 356.3 536.7 355.7C537.4 355.1 538.5 354.6 539.2 354C539.8 353.4 540.1 353.1 540.4 352.3C540.8 351.6 540.9 350.1 541.3 349.3C541.6 348.5 542.2 348 542.7 347.4M533.4 356.4C534 355.6 534.9 354.8 535.2 354C535.5 353.2 535.3 352.4 535.4 351.6C535.4 350.7 534.9 349.7 535.2 348.9C535.5 348.2 536.3 347.9 537.1 347.2C537.8 346.6 538.9 345.8 539.7 345.1M525.5 349.8C526.1 349.2 526.6 348.6 527.4 348.1C528.1 347.5 529.3 347 530 346.5C530.7 346 531 345.7 531.4 345C531.8 344.2 532 342.8 532.5 342C532.9 341.2 533.5 340.8 534 340.2M524 348.4C524.7 347.7 525.6 346.9 526 346.2C526.4 345.4 526.3 344.6 526.4 343.8C526.5 343 526.1 341.9 526.5 341.2C526.8 340.5 527.7 340.2 528.5 339.6C529.3 339 530.4 338.3 531.3 337.7M516.7 341.2C517.4 340.7 517.9 340.1 518.7 339.6C519.5 339.2 520.7 338.8 521.5 338.3C522.2 337.9 522.5 337.6 523 336.9C523.5 336.2 523.8 334.8 524.3 334.1C524.8 333.3 525.4 332.9 526 332.3M515.4 339.7C516.1 339 517.1 338.4 517.5 337.6C518 336.9 518 336.1 518.1 335.3C518.2 334.5 518 333.4 518.4 332.7C518.8 332 519.7 331.8 520.5 331.3C521.4 330.8 522.5 330.2 523.5 329.6M508.7 331.9C509.4 331.5 510 330.9 510.8 330.5C511.6 330.1 512.9 329.8 513.6 329.5C514.4 329.1 514.8 328.8 515.3 328.2C515.8 327.5 516.3 326.1 516.8 325.4C517.4 324.7 518.1 324.4 518.7 323.9M507.5 330.3C508.2 329.7 509.3 329.2 509.8 328.5C510.3 327.8 510.3 327 510.5 326.2C510.8 325.3 510.6 324.2 511.1 323.6C511.5 323 512.4 322.8 513.3 322.4C514.2 321.9 515.4 321.4 516.4 321M501.4 322C502.2 321.6 502.8 321.1 503.7 320.8C504.5 320.5 505.8 320.3 506.6 320C507.4 319.6 507.7 319.4 508.3 318.8C508.9 318.2 509.5 316.9 510.1 316.2C510.7 315.6 511.4 315.3 512.1 314.8M500.3 320.3C501.2 319.8 502.3 319.3 502.8 318.7C503.4 318 503.5 317.2 503.8 316.4C504 315.6 504 314.5 504.5 313.9C505 313.3 505.9 313.2 506.8 312.9C507.7 312.5 509 312.1 510 311.7M495.1 311.5C495.8 311.2 496.5 310.8 497.3 310.5C498.2 310.3 499.5 310.2 500.3 309.9C501.1 309.7 501.5 309.5 502.2 308.9C502.8 308.4 503.5 307.1 504.2 306.5C504.8 305.9 505.5 305.7 506.2 305.3M494.1 309.8C495 309.3 496.1 308.9 496.7 308.3C497.3 307.7 497.5 306.9 497.8 306.2C498.2 305.4 498.2 304.3 498.8 303.7C499.3 303.2 500.2 303.2 501.2 302.9C502.1 302.6 503.4 302.3 504.5 302M489.5 300.6C490.3 300.3 491 300 491.9 299.8C492.8 299.6 494.1 299.6 494.9 299.4C495.8 299.2 496.2 299.1 496.9 298.6C497.5 298 498.3 296.9 499 296.3C499.8 295.7 500.5 295.6 501.2 295.2M488.7 298.8C489.6 298.3 490.8 298.1 491.5 297.5C492.1 297 492.3 296.2 492.7 295.5C493.2 294.7 493.3 293.6 493.9 293.1C494.5 292.6 495.4 292.7 496.3 292.5C497.3 292.2 498.6 292.1 499.7 291.9M485 289.2C485.8 289 486.5 288.7 487.4 288.6C488.3 288.5 489.6 288.6 490.4 288.5C491.3 288.4 491.7 288.3 492.4 287.8C493.1 287.3 494 286.2 494.8 285.7C495.5 285.2 496.3 285.1 497 284.8M484.3 287.3C485.2 287 486.4 286.8 487.1 286.3C487.8 285.8 488.1 285.1 488.6 284.4C489 283.7 489.3 282.6 489.9 282.1C490.6 281.7 491.4 281.8 492.4 281.7C493.4 281.5 494.7 281.5 495.8 281.3M481.3 277.5C482.2 277.4 482.9 277.1 483.8 277.1C484.7 277 486 277.3 486.9 277.2C487.7 277.2 488.1 277.1 488.9 276.7C489.6 276.3 490.6 275.3 491.4 274.8C492.2 274.4 492.9 274.4 493.7 274.1M480.8 275.6C481.8 275.3 483 275.2 483.7 274.8C484.5 274.4 484.8 273.6 485.3 273C485.9 272.3 486.2 271.2 486.9 270.8C487.5 270.4 488.4 270.6 489.4 270.6C490.4 270.6 491.7 270.6 492.8 270.6M478.7 265.5C479.5 265.5 480.3 265.3 481.2 265.3C482.1 265.4 483.4 265.7 484.2 265.7C485.1 265.7 485.5 265.7 486.3 265.4C487.1 265 488.1 264.1 489 263.7C489.8 263.3 490.5 263.4 491.3 263.2M478.4 263.6C479.3 263.4 480.5 263.4 481.3 263C482.1 262.7 482.5 262 483.1 261.4C483.6 260.7 484 259.7 484.8 259.3C485.5 259 486.3 259.3 487.3 259.3C488.3 259.4 489.6 259.5 490.7 259.6M477 253.4C477.9 253.4 478.6 253.3 479.6 253.4C480.5 253.5 481.7 254 482.5 254C483.4 254.1 483.8 254.1 484.6 253.9C485.5 253.6 486.6 252.7 487.4 252.4C488.3 252.1 489 252.2 489.8 252.1M476.9 251.4C477.9 251.3 479.1 251.4 479.9 251.1C480.7 250.8 481.1 250.2 481.8 249.6C482.4 249 482.9 248 483.6 247.7C484.3 247.4 485.2 247.8 486.1 247.9C487.1 248 488.4 248.3 489.5 248.4M476.4 241.2C477.3 241.2 478 241.2 478.9 241.4C479.8 241.5 481 242.1 481.8 242.2C482.7 242.4 483.1 242.4 483.9 242.2C484.8 242 486 241.3 486.8 241C487.7 240.8 488.5 241 489.3 240.9M476.4 239.2C477.4 239.1 478.6 239.3 479.4 239.1C480.3 238.9 480.8 238.3 481.4 237.8C482.1 237.2 482.7 236.3 483.4 236C484.2 235.8 485 236.2 485.9 236.4C486.9 236.6 488.1 237 489.2 237.2M476.8 228.9C477.6 229.1 478.4 229.1 479.3 229.3C480.2 229.6 481.3 230.2 482.1 230.4C482.9 230.7 483.4 230.7 484.2 230.6C485.1 230.5 486.3 229.8 487.2 229.6C488.1 229.5 488.8 229.7 489.6 229.7M477 226.9C478 227 479.1 227.3 480 227.1C480.8 226.9 481.4 226.4 482.1 225.9C482.8 225.5 483.4 224.5 484.2 224.4C485 224.2 485.7 224.7 486.7 225C487.6 225.3 488.8 225.7 489.9 226M478.2 216.7C479 216.9 479.8 217 480.6 217.3C481.5 217.7 482.6 218.4 483.4 218.7C484.2 219 484.6 219.1 485.5 219C486.3 219 487.6 218.4 488.5 218.3C489.4 218.3 490.1 218.5 490.9 218.6M478.5 214.8C479.5 214.9 480.6 215.3 481.5 215.2C482.4 215.1 483 214.6 483.7 214.2C484.4 213.8 485.2 212.9 486 212.8C486.7 212.7 487.4 213.3 488.4 213.6C489.3 214 490.5 214.5 491.5 215M480.6 204.7C481.4 205 482.2 205.1 483 205.5C483.8 205.9 484.8 206.8 485.6 207.1C486.4 207.4 486.8 207.6 487.6 207.6C488.5 207.6 489.8 207.1 490.8 207.1C491.7 207.2 492.3 207.5 493.1 207.6M481.1 202.8C482.1 203 483.2 203.5 484 203.5C484.9 203.4 485.5 203 486.3 202.6C487.1 202.3 487.9 201.5 488.7 201.5C489.4 201.4 490.1 202 491 202.5C491.9 202.9 493 203.5 494 204M484 192.9C484.8 193.3 485.5 193.5 486.3 193.9C487.1 194.4 488 195.3 488.8 195.7C489.5 196.1 489.9 196.3 490.8 196.4C491.6 196.5 493 196.1 493.9 196.2C494.8 196.3 495.4 196.6 496.2 196.9M484.6 191.1C485.6 191.4 486.6 191.9 487.5 192C488.4 192 489 191.6 489.8 191.3C490.6 191.1 491.5 190.3 492.3 190.4C493.1 190.4 493.7 191.1 494.5 191.6C495.4 192.1 496.5 192.8 497.4 193.4M488.4 181.5C489.1 181.9 489.8 182.1 490.6 182.7C491.3 183.2 492.2 184.2 492.9 184.7C493.6 185.1 494 185.3 494.8 185.5C495.7 185.6 497.1 185.4 498 185.5C498.9 185.7 499.5 186.1 500.2 186.4M489.2 179.7C490.1 180 491.1 180.7 491.9 180.8C492.8 180.9 493.5 180.6 494.3 180.4C495.1 180.2 496.1 179.5 496.8 179.6C497.6 179.7 498.2 180.4 499 181C499.8 181.5 500.8 182.3 501.7 183M493.7 170.4C494.4 170.9 495.1 171.2 495.8 171.8C496.5 172.4 497.2 173.4 497.9 174C498.6 174.5 498.9 174.7 499.8 174.9C500.6 175.2 502 175 502.9 175.3C503.8 175.5 504.3 176 505.1 176.3M494.6 168.7C495.5 169.1 496.4 169.9 497.3 170C498.1 170.2 498.8 169.9 499.7 169.8C500.5 169.7 501.5 169.1 502.2 169.2C503 169.4 503.5 170.1 504.3 170.8C505 171.4 506 172.3 506.8 173M499.8 159.8C500.5 160.3 501.2 160.7 501.8 161.4C502.5 162 503.2 163.1 503.8 163.7C504.4 164.3 504.7 164.6 505.6 164.8C506.4 165.1 507.8 165.1 508.6 165.4C509.5 165.7 510 166.2 510.7 166.6M500.9 158.2C501.8 158.7 502.7 159.5 503.5 159.8C504.3 160 505.1 159.8 505.9 159.7C506.7 159.6 507.8 159.1 508.5 159.4C509.3 159.6 509.7 160.4 510.4 161.1C511.1 161.8 512 162.7 512.7 163.5M506.9 149.8C507.5 150.4 508.1 150.8 508.8 151.5C509.4 152.2 509.9 153.3 510.5 154C511.1 154.6 511.4 154.9 512.2 155.3C512.9 155.6 514.4 155.7 515.2 156.1C516 156.4 516.5 157 517.2 157.5M508.1 148.2C508.9 148.8 509.7 149.7 510.5 150C511.3 150.3 512.1 150.2 512.9 150.2C513.8 150.2 514.8 149.8 515.6 150C516.3 150.3 516.7 151.1 517.3 151.9C517.9 152.6 518.7 153.7 519.4 154.5M514.7 140.4C515.3 141 515.9 141.5 516.5 142.2C517 142.9 517.5 144.2 518 144.8C518.5 145.5 518.8 145.8 519.6 146.2C520.3 146.7 521.7 146.9 522.5 147.3C523.3 147.7 523.7 148.3 524.3 148.9M516.1 138.9C516.8 139.6 517.6 140.5 518.3 140.9C519.1 141.3 519.9 141.2 520.7 141.2C521.6 141.3 522.7 141 523.4 141.3C524.1 141.7 524.4 142.5 524.9 143.3C525.5 144.1 526.2 145.2 526.8 146.1M523.4 131.6C523.9 132.3 524.4 132.8 524.9 133.6C525.4 134.4 525.8 135.6 526.2 136.3C526.7 137 526.9 137.4 527.7 137.9C528.4 138.3 529.8 138.7 530.5 139.2C531.3 139.7 531.7 140.3 532.2 140.9M524.8 130.3C525.5 131 526.2 132 526.9 132.4C527.6 132.9 528.4 132.8 529.3 133C530.1 133.1 531.2 132.9 531.9 133.3C532.5 133.7 532.8 134.5 533.3 135.4C533.8 136.2 534.4 137.4 534.9 138.4M532.7 123.6C533.1 124.3 533.6 124.9 534 125.7C534.5 126.5 534.7 127.8 535.1 128.5C535.5 129.3 535.8 129.7 536.4 130.2C537.1 130.7 538.5 131.2 539.2 131.7C539.9 132.3 540.2 132.9 540.7 133.6M534.2 122.4C534.9 123.2 535.4 124.2 536.1 124.7C536.8 125.2 537.6 125.2 538.4 125.4C539.2 125.7 540.4 125.5 541 126C541.6 126.4 541.8 127.3 542.2 128.2C542.7 129.1 543.2 130.2 543.6 131.3M542.6 116.4C543 117.1 543.5 117.7 543.8 118.6C544.1 119.4 544.3 120.7 544.7 121.5C545 122.3 545.2 122.7 545.8 123.3C546.4 123.8 547.7 124.4 548.4 125C549.1 125.6 549.3 126.3 549.8 127M544.3 115.3C544.8 116.1 545.3 117.2 546 117.8C546.6 118.3 547.4 118.4 548.2 118.7C549 119 550.1 118.9 550.7 119.4C551.3 119.9 551.4 120.8 551.8 121.7C552.1 122.7 552.5 123.9 552.9 124.9M553.1 110C553.4 110.8 553.9 111.4 554.1 112.3C554.4 113.2 554.5 114.5 554.7 115.3C555 116.1 555.2 116.5 555.7 117.1C556.3 117.8 557.6 118.4 558.2 119.1C558.8 119.8 559 120.5 559.4 121.1M554.9 109.1C555.3 109.9 555.7 111 556.3 111.7C556.9 112.3 557.7 112.4 558.5 112.8C559.2 113.1 560.4 113.2 560.9 113.7C561.5 114.3 561.5 115.2 561.8 116.1C562.1 117 562.4 118.3 562.7 119.4M564.1 104.5C564.4 105.3 564.7 106 564.9 106.9C565.1 107.8 565.1 109.1 565.3 109.9C565.5 110.7 565.6 111.1 566.1 111.8C566.6 112.5 567.8 113.3 568.4 114C569 114.7 569.1 115.4 569.5 116.1M565.9 103.7C566.3 104.6 566.6 105.8 567.2 106.4C567.7 107.1 568.5 107.3 569.2 107.7C570 108.1 571.1 108.3 571.6 108.9C572.1 109.5 572 110.3 572.2 111.3C572.5 112.3 572.6 113.5 572.9 114.6M575.5 100C575.7 100.8 576 101.5 576.1 102.4C576.3 103.3 576.1 104.6 576.2 105.4C576.4 106.2 576.5 106.7 576.9 107.4C577.4 108.1 578.5 109 579 109.7C579.5 110.5 579.6 111.2 579.9 112M577.4 99.3C577.7 100.2 577.9 101.4 578.4 102.1C578.9 102.8 579.7 103.1 580.4 103.6C581.1 104 582.2 104.3 582.6 104.9C583.1 105.5 582.9 106.4 583.1 107.4C583.2 108.4 583.3 109.6 583.4 110.8M587.3 96.3C587.4 97.2 587.6 97.9 587.7 98.8C587.7 99.7 587.5 101 587.5 101.8C587.6 102.7 587.7 103.1 588.1 103.9C588.5 104.6 589.5 105.6 589.9 106.4C590.4 107.2 590.4 107.9 590.6 108.7M589.2 95.8C589.5 96.8 589.6 98 590 98.7C590.4 99.5 591.1 99.8 591.8 100.3C592.5 100.9 593.5 101.2 593.9 101.9C594.3 102.5 594.1 103.4 594.2 104.4C594.2 105.4 594.2 106.6 594.2 107.8M599.3 93.7C599.3 94.5 599.5 95.3 599.5 96.2C599.5 97.1 599.1 98.4 599.1 99.2C599.1 100.1 599.1 100.5 599.4 101.3C599.8 102.1 600.7 103.1 601.1 103.9C601.5 104.8 601.4 105.5 601.6 106.3M601.2 93.4C601.4 94.4 601.4 95.5 601.8 96.3C602.2 97.1 602.8 97.5 603.5 98.1C604.1 98.6 605.1 99 605.5 99.8C605.8 100.5 605.5 101.3 605.5 102.3C605.5 103.3 605.3 104.5 605.3 105.7M611.5 92.1C611.5 92.9 611.6 93.7 611.5 94.6C611.4 95.5 610.9 96.7 610.8 97.5C610.7 98.4 610.7 98.8 611 99.6C611.3 100.4 612.2 101.6 612.4 102.4C612.7 103.3 612.6 104 612.8 104.8M613.4 91.9C613.5 92.9 613.4 94.1 613.8 94.9C614.1 95.7 614.7 96.1 615.3 96.8C615.8 97.4 616.9 97.9 617.1 98.6C617.4 99.3 617.1 100.1 617 101.1C616.8 102.1 616.6 103.4 616.4 104.5M623.7 91.4C623.7 92.3 623.7 93 623.5 93.9C623.4 94.8 622.8 96 622.6 96.8C622.5 97.7 622.5 98.1 622.7 98.9C622.9 99.8 623.6 101 623.9 101.8C624.1 102.7 623.9 103.4 624 104.2M625.7 91.4C625.8 92.4 625.6 93.6 625.8 94.4C626 95.3 626.6 95.8 627.1 96.4C627.7 97.1 628.6 97.7 628.9 98.4C629.1 99.2 628.7 100 628.5 100.9C628.3 101.9 627.9 103.1 627.7 104.2M636 91.8C635.9 92.7 635.9 93.4 635.6 94.3C635.4 95.2 634.7 96.3 634.5 97.1C634.3 97.9 634.2 98.4 634.3 99.2C634.5 100.1 635.1 101.3 635.3 102.2C635.4 103.1 635.2 103.8 635.2 104.6M638 92C638 93 637.7 94.1 637.8 95C638 95.8 638.6 96.4 639 97.1C639.5 97.8 640.4 98.4 640.6 99.2C640.7 100 640.2 100.7 640 101.7C639.7 102.6 639.2 103.8 638.9 104.9M648.2 93.2C648 94 648 94.8 647.6 95.7C647.3 96.5 646.6 97.6 646.3 98.4C646 99.2 645.9 99.6 645.9 100.4C646 101.3 646.6 102.6 646.7 103.5C646.7 104.4 646.5 105.1 646.4 105.9M650.2 93.6C650.1 94.5 649.7 95.7 649.8 96.5C649.9 97.4 650.4 98 650.8 98.7C651.2 99.4 652 100.2 652.1 101C652.2 101.7 651.7 102.4 651.3 103.4C651 104.3 650.5 105.4 650 106.5M660.3 95.6C660 96.4 659.9 97.2 659.5 98C659.1 98.8 658.3 99.8 657.9 100.6C657.6 101.4 657.4 101.8 657.4 102.6C657.4 103.5 657.9 104.8 657.9 105.7C657.9 106.6 657.5 107.3 657.4 108.1M662.2 96.1C662 97.1 661.5 98.2 661.6 99C661.6 99.9 662.1 100.5 662.4 101.3C662.7 102.1 663.5 102.9 663.5 103.6C663.6 104.4 663 105.1 662.6 106C662.1 106.9 661.5 108 661 109M672.1 99C671.8 99.8 671.6 100.5 671.1 101.3C670.7 102.1 669.7 103 669.3 103.8C668.9 104.5 668.7 104.9 668.7 105.7C668.6 106.6 668.9 108 668.9 108.9C668.8 109.8 668.4 110.4 668.2 111.2M674 99.6C673.7 100.6 673.1 101.6 673.1 102.5C673 103.4 673.5 104 673.7 104.8C674 105.6 674.7 106.5 674.7 107.3C674.7 108 674 108.7 673.5 109.5C673 110.4 672.3 111.4 671.7 112.4M683.6 103.3C683.2 104.1 683 104.8 682.4 105.6C681.9 106.3 680.9 107.2 680.5 107.9C680 108.6 679.8 108.9 679.6 109.8C679.5 110.6 679.7 112 679.6 112.9C679.4 113.8 679 114.4 678.7 115.2M685.5 104.1C685.1 105.1 684.4 106.1 684.3 106.9C684.2 107.8 684.5 108.5 684.7 109.3C684.9 110.1 685.6 111 685.5 111.8C685.4 112.6 684.7 113.1 684.1 113.9C683.6 114.7 682.8 115.7 682.1 116.6M694.7 108.6C694.3 109.3 693.9 110 693.4 110.7C692.8 111.4 691.7 112.2 691.2 112.9C690.7 113.5 690.4 113.9 690.2 114.7C690 115.5 690.1 116.9 689.9 117.8C689.6 118.7 689.2 119.3 688.8 120M696.5 109.6C696 110.5 695.3 111.4 695.1 112.2C694.9 113.1 695.2 113.8 695.3 114.6C695.5 115.5 696.1 116.4 695.9 117.2C695.7 118 695 118.4 694.4 119.2C693.7 120 692.8 120.9 692.1 121.7M705.3 114.8C704.8 115.4 704.5 116.1 703.8 116.8C703.2 117.4 702.1 118.1 701.5 118.7C700.9 119.3 700.6 119.7 700.3 120.5C700 121.3 700.1 122.7 699.8 123.6C699.5 124.4 698.9 124.9 698.5 125.6M707 115.9C706.5 116.7 705.7 117.6 705.4 118.4C705.2 119.2 705.4 120 705.5 120.8C705.5 121.7 706 122.7 705.8 123.4C705.6 124.2 704.8 124.6 704.1 125.3C703.4 126 702.5 126.9 701.6 127.6M715.4 121.8C714.9 122.4 714.4 123.1 713.7 123.7C713 124.3 711.9 124.8 711.2 125.4C710.6 126 710.3 126.3 710 127.1C709.6 127.8 709.5 129.3 709.1 130.1C708.8 130.9 708.2 131.4 707.7 132M717 123C716.4 123.8 715.5 124.6 715.2 125.4C714.9 126.2 715.1 127 715 127.8C715 128.7 715.5 129.7 715.2 130.5C714.9 131.2 714.1 131.5 713.3 132.2C712.6 132.8 711.5 133.6 710.7 134.3M724.9 129.6C724.3 130.2 723.8 130.8 723 131.3C722.3 131.9 721.1 132.4 720.4 132.9C719.7 133.4 719.4 133.7 719 134.4C718.6 135.2 718.4 136.6 717.9 137.4C717.5 138.2 716.9 138.6 716.4 139.2M726.4 131C725.7 131.7 724.8 132.5 724.4 133.2C724 134 724.1 134.8 724 135.6C723.9 136.4 724.3 137.5 723.9 138.2C723.6 138.9 722.7 139.2 721.9 139.8C721.1 140.4 720 141.1 719.1 141.7M733.7 138.2C733 138.7 732.5 139.3 731.7 139.8C730.9 140.2 729.7 140.6 728.9 141.1C728.2 141.5 727.9 141.8 727.4 142.5C726.9 143.2 726.6 144.6 726.1 145.3C725.6 146.1 725 146.5 724.4 147.1M735 139.7C734.3 140.4 733.3 141 732.9 141.8C732.4 142.5 732.4 143.3 732.3 144.1C732.2 144.9 732.4 146 732 146.7C731.6 147.4 730.7 147.6 729.9 148.1C729 148.6 727.9 149.2 726.9 149.8M741.7 147.5C741 147.9 740.4 148.5 739.6 148.9C738.8 149.3 737.5 149.6 736.8 149.9C736 150.3 735.6 150.6 735.1 151.2C734.6 151.9 734.1 153.3 733.6 154C733 154.7 732.3 155 731.7 155.5M742.9 149.1C742.2 149.7 741.1 150.2 740.6 150.9C740.1 151.6 740.1 152.4 739.9 153.2C739.6 154.1 739.8 155.2 739.3 155.8C738.9 156.4 738 156.6 737.1 157C736.2 157.5 735 158 734 158.4M749 157.4C748.2 157.8 747.6 158.3 746.7 158.6C745.9 158.9 744.6 159.1 743.8 159.4C743 159.8 742.7 160 742.1 160.6C741.5 161.2 740.9 162.5 740.3 163.2C739.7 163.8 739 164.1 738.3 164.6M750.1 159.1C749.2 159.6 748.1 160.1 747.6 160.7C747 161.4 746.9 162.2 746.6 163C746.4 163.8 746.4 164.9 745.9 165.5C745.4 166.1 744.5 166.2 743.6 166.5C742.7 166.9 741.4 167.3 740.4 167.7M755.3 167.9C754.6 168.2 753.9 168.6 753.1 168.9C752.2 169.1 750.9 169.2 750.1 169.5C749.3 169.7 748.9 169.9 748.2 170.5C747.6 171 746.9 172.3 746.2 172.9C745.6 173.5 744.9 173.7 744.2 174.1M756.3 169.6C755.4 170.1 754.3 170.5 753.7 171.1C753.1 171.7 752.9 172.5 752.6 173.2C752.2 174 752.2 175.1 751.6 175.7C751.1 176.2 750.2 176.2 749.2 176.5C748.3 176.8 747 177.1 745.9 177.4M760.9 178.8C760.1 179.1 759.4 179.4 758.5 179.6C757.6 179.8 756.3 179.8 755.5 180C754.6 180.2 754.2 180.3 753.5 180.8C752.9 181.4 752.1 182.5 751.4 183.1C750.6 183.7 749.9 183.8 749.2 184.2M761.7 180.6C760.8 181.1 759.6 181.3 758.9 181.9C758.3 182.4 758.1 183.2 757.7 183.9C757.2 184.7 757.1 185.8 756.5 186.3C755.9 186.8 755 186.7 754.1 186.9C753.1 187.2 751.8 187.3 750.7 187.5M765.4 190.2C764.6 190.4 763.9 190.7 763 190.8C762.1 190.9 760.8 190.8 760 190.9C759.1 191 758.7 191.1 758 191.6C757.3 192.1 756.4 193.2 755.6 193.7C754.9 194.2 754.1 194.3 753.4 194.6M766.1 192.1C765.2 192.4 764 192.6 763.3 193.1C762.6 193.6 762.3 194.3 761.8 195C761.4 195.7 761.1 196.8 760.5 197.3C759.8 197.7 759 197.6 758 197.7C757 197.9 755.7 197.9 754.6 198.1M769.1 201.9C768.2 202 767.5 202.3 766.6 202.3C765.7 202.4 764.4 202.1 763.5 202.2C762.7 202.2 762.3 202.3 761.5 202.7C760.8 203.1 759.8 204.1 759 204.6C758.2 205 757.5 205 756.7 205.3M769.6 203.8C768.6 204.1 767.4 204.2 766.7 204.6C765.9 205 765.6 205.8 765.1 206.4C764.5 207.1 764.2 208.2 763.5 208.6C762.9 209 762 208.8 761 208.8C760 208.8 758.7 208.8 757.6 208.8M771.7 213.9C770.9 213.9 770.1 214.1 769.2 214.1C768.3 214 767 213.7 766.2 213.7C765.3 213.7 764.9 213.7 764.1 214C763.3 214.4 762.3 215.3 761.4 215.7C760.6 216.1 759.9 216 759.1 216.2M772 215.8C771.1 216 769.9 216 769.1 216.4C768.3 216.7 767.9 217.4 767.3 218C766.8 218.7 766.4 219.7 765.6 220.1C764.9 220.4 764.1 220.1 763.1 220.1C762.1 220 760.8 219.9 759.7 219.8M773.4 226C772.5 226 771.8 226.1 770.8 226C769.9 225.9 768.7 225.4 767.9 225.4C767 225.3 766.6 225.3 765.8 225.5C764.9 225.8 763.8 226.7 763 227C762.1 227.3 761.4 227.2 760.6 227.3M773.5 228C772.5 228.1 771.3 228 770.5 228.3C769.7 228.6 769.3 229.2 768.6 229.8C768 230.4 767.5 231.4 766.8 231.7C766.1 232 765.2 231.6 764.3 231.5C763.3 231.4 762 231.1 760.9 231" fill="none" stroke="#c8962a" stroke-width="1.05" stroke-linejoin="round"/>
<circle cx="780.2" cy="239.2" r="5.5" fill="url(#bead)" stroke="#9c9e2d" stroke-width="1.7"/>
<circle cx="779.7" cy="252" r="5.5" fill="url(#bead)" stroke="#9c9e2d" stroke-width="1.7"/>
<circle cx="778.2" cy="264.6" r="5.5" fill="url(#bead)" stroke="#9c9e2d" stroke-width="1.7"/>
<circle cx="775.6" cy="277.1" r="5.5" fill="url(#bead)" stroke="#9c9e2d" stroke-width="1.7"/>
<circle cx="772" cy="289.4" r="5.5" fill="url(#bead)" stroke="#9c9e2d" stroke-width="1.7"/>
<circle cx="767.3" cy="301.3" r="5.5" fill="url(#bead)" stroke="#9c9e2d" stroke-width="1.7"/>
<circle cx="761.7" cy="312.8" r="5.5" fill="url(#bead)" stroke="#9c9e2d" stroke-width="1.7"/>
<circle cx="755.2" cy="323.8" r="5.5" fill="url(#bead)" stroke="#9c9e2d" stroke-width="1.7"/>
<circle cx="747.8" cy="334.2" r="5.5" fill="url(#bead)" stroke="#9c9e2d" stroke-width="1.7"/>
<circle cx="739.6" cy="343.9" r="5.5" fill="url(#bead)" stroke="#9c9e2d" stroke-width="1.7"/>
<circle cx="730.5" cy="353" r="5.5" fill="url(#bead)" stroke="#9c9e2d" stroke-width="1.7"/>
<circle cx="720.8" cy="361.3" r="5.5" fill="url(#bead)" stroke="#9c9e2d" stroke-width="1.7"/>
<circle cx="710.4" cy="368.7" r="5.5" fill="url(#bead)" stroke="#9c9e2d" stroke-width="1.7"/>
<circle cx="699.4" cy="375.3" r="5.5" fill="url(#bead)" stroke="#9c9e2d" stroke-width="1.7"/>
<circle cx="687.9" cy="380.9" r="5.5" fill="url(#bead)" stroke="#9c9e2d" stroke-width="1.7"/>
<circle cx="676" cy="385.6" r="5.5" fill="url(#bead)" stroke="#9c9e2d" stroke-width="1.7"/>
<circle cx="663.7" cy="389.3" r="5.5" fill="url(#bead)" stroke="#9c9e2d" stroke-width="1.7"/>
<circle cx="651.2" cy="392" r="5.5" fill="url(#bead)" stroke="#9c9e2d" stroke-width="1.7"/>
<circle cx="638.5" cy="393.6" r="5.5" fill="url(#bead)" stroke="#9c9e2d" stroke-width="1.7"/>
<circle cx="625.7" cy="394.1" r="5.5" fill="url(#bead)" stroke="#9c9e2d" stroke-width="1.7"/>
<circle cx="612.9" cy="393.7" r="5.5" fill="url(#bead)" stroke="#9c9e2d" stroke-width="1.7"/>
<circle cx="600.2" cy="392.1" r="5.5" fill="url(#bead)" stroke="#9c9e2d" stroke-width="1.7"/>
<circle cx="587.6" cy="389.5" r="5.5" fill="url(#bead)" stroke="#9c9e2d" stroke-width="1.7"/>
<circle cx="575.3" cy="385.9" r="5.5" fill="url(#bead)" stroke="#9c9e2d" stroke-width="1.7"/>
<circle cx="563.4" cy="381.3" r="5.5" fill="url(#bead)" stroke="#9c9e2d" stroke-width="1.7"/>
<circle cx="551.9" cy="375.8" r="5.5" fill="url(#bead)" stroke="#9c9e2d" stroke-width="1.7"/>
<circle cx="540.8" cy="369.3" r="5.5" fill="url(#bead)" stroke="#9c9e2d" stroke-width="1.7"/>
<circle cx="530.4" cy="361.9" r="5.5" fill="url(#bead)" stroke="#9c9e2d" stroke-width="1.7"/>
<circle cx="520.6" cy="353.7" r="5.5" fill="url(#bead)" stroke="#9c9e2d" stroke-width="1.7"/>
<circle cx="511.5" cy="344.7" r="5.5" fill="url(#bead)" stroke="#9c9e2d" stroke-width="1.7"/>
<circle cx="503.2" cy="334.9" r="5.5" fill="url(#bead)" stroke="#9c9e2d" stroke-width="1.7"/>
<circle cx="495.7" cy="324.6" r="5.5" fill="url(#bead)" stroke="#9c9e2d" stroke-width="1.7"/>
<circle cx="489.1" cy="313.6" r="5.5" fill="url(#bead)" stroke="#9c9e2d" stroke-width="1.7"/>
<circle cx="483.5" cy="302.2" r="5.5" fill="url(#bead)" stroke="#9c9e2d" stroke-width="1.7"/>
<circle cx="478.8" cy="290.3" r="5.5" fill="url(#bead)" stroke="#9c9e2d" stroke-width="1.7"/>
<circle cx="475.1" cy="278.1" r="5.5" fill="url(#bead)" stroke="#9c9e2d" stroke-width="1.7"/>
<circle cx="472.4" cy="265.6" r="5.5" fill="url(#bead)" stroke="#9c9e2d" stroke-width="1.7"/>
<circle cx="470.8" cy="252.9" r="5.5" fill="url(#bead)" stroke="#9c9e2d" stroke-width="1.7"/>
<circle cx="470.2" cy="240.2" r="5.5" fill="url(#bead)" stroke="#9c9e2d" stroke-width="1.7"/>
<circle cx="470.7" cy="227.4" r="5.5" fill="url(#bead)" stroke="#9c9e2d" stroke-width="1.7"/>
<circle cx="472.2" cy="214.8" r="5.5" fill="url(#bead)" stroke="#9c9e2d" stroke-width="1.7"/>
<circle cx="474.8" cy="202.3" r="5.5" fill="url(#bead)" stroke="#9c9e2d" stroke-width="1.7"/>
<circle cx="478.4" cy="190" r="5.5" fill="url(#bead)" stroke="#9c9e2d" stroke-width="1.7"/>
<circle cx="483.1" cy="178.1" r="5.5" fill="url(#bead)" stroke="#9c9e2d" stroke-width="1.7"/>
<circle cx="488.7" cy="166.6" r="5.5" fill="url(#bead)" stroke="#9c9e2d" stroke-width="1.7"/>
<circle cx="495.2" cy="155.6" r="5.5" fill="url(#bead)" stroke="#9c9e2d" stroke-width="1.7"/>
<circle cx="502.6" cy="145.2" r="5.5" fill="url(#bead)" stroke="#9c9e2d" stroke-width="1.7"/>
<circle cx="510.8" cy="135.5" r="5.5" fill="url(#bead)" stroke="#9c9e2d" stroke-width="1.7"/>
<circle cx="519.9" cy="126.4" r="5.5" fill="url(#bead)" stroke="#9c9e2d" stroke-width="1.7"/>
<circle cx="529.6" cy="118.1" r="5.5" fill="url(#bead)" stroke="#9c9e2d" stroke-width="1.7"/>
<circle cx="540" cy="110.7" r="5.5" fill="url(#bead)" stroke="#9c9e2d" stroke-width="1.7"/>
<circle cx="551" cy="104.1" r="5.5" fill="url(#bead)" stroke="#9c9e2d" stroke-width="1.7"/>
<circle cx="562.5" cy="98.5" r="5.5" fill="url(#bead)" stroke="#9c9e2d" stroke-width="1.7"/>
<circle cx="574.4" cy="93.8" r="5.5" fill="url(#bead)" stroke="#9c9e2d" stroke-width="1.7"/>
<circle cx="586.7" cy="90.1" r="5.5" fill="url(#bead)" stroke="#9c9e2d" stroke-width="1.7"/>
<circle cx="599.2" cy="87.4" r="5.5" fill="url(#bead)" stroke="#9c9e2d" stroke-width="1.7"/>
<circle cx="611.9" cy="85.8" r="5.5" fill="url(#bead)" stroke="#9c9e2d" stroke-width="1.7"/>
<circle cx="624.7" cy="85.3" r="5.5" fill="url(#bead)" stroke="#9c9e2d" stroke-width="1.7"/>
<circle cx="637.5" cy="85.7" r="5.5" fill="url(#bead)" stroke="#9c9e2d" stroke-width="1.7"/>
<circle cx="650.2" cy="87.3" r="5.5" fill="url(#bead)" stroke="#9c9e2d" stroke-width="1.7"/>
<circle cx="662.8" cy="89.9" r="5.5" fill="url(#bead)" stroke="#9c9e2d" stroke-width="1.7"/>
<circle cx="675.1" cy="93.5" r="5.5" fill="url(#bead)" stroke="#9c9e2d" stroke-width="1.7"/>
<circle cx="687" cy="98.1" r="5.5" fill="url(#bead)" stroke="#9c9e2d" stroke-width="1.7"/>
<circle cx="698.5" cy="103.6" r="5.5" fill="url(#bead)" stroke="#9c9e2d" stroke-width="1.7"/>
<circle cx="709.6" cy="110.1" r="5.5" fill="url(#bead)" stroke="#9c9e2d" stroke-width="1.7"/>
<circle cx="720" cy="117.5" r="5.5" fill="url(#bead)" stroke="#9c9e2d" stroke-width="1.7"/>
<circle cx="729.8" cy="125.7" r="5.5" fill="url(#bead)" stroke="#9c9e2d" stroke-width="1.7"/>
<circle cx="738.9" cy="134.7" r="5.5" fill="url(#bead)" stroke="#9c9e2d" stroke-width="1.7"/>
<circle cx="747.2" cy="144.5" r="5.5" fill="url(#bead)" stroke="#9c9e2d" stroke-width="1.7"/>
<circle cx="754.7" cy="154.8" r="5.5" fill="url(#bead)" stroke="#9c9e2d" stroke-width="1.7"/>
<circle cx="761.3" cy="165.8" r="5.5" fill="url(#bead)" stroke="#9c9e2d" stroke-width="1.7"/>
<circle cx="766.9" cy="177.2" r="5.5" fill="url(#bead)" stroke="#9c9e2d" stroke-width="1.7"/>
<circle cx="771.6" cy="189.1" r="5.5" fill="url(#bead)" stroke="#9c9e2d" stroke-width="1.7"/>
<circle cx="775.3" cy="201.3" r="5.5" fill="url(#bead)" stroke="#9c9e2d" stroke-width="1.7"/>
<circle cx="778" cy="213.8" r="5.5" fill="url(#bead)" stroke="#9c9e2d" stroke-width="1.7"/>
<circle cx="779.6" cy="226.5" r="5.5" fill="url(#bead)" stroke="#9c9e2d" stroke-width="1.7"/>
<path d="M461.4 259.3C465.9 259.3 470.8 259.5 474.9 259.4C479 259.3 482.2 259.6 485.9 258.5C489.6 257.4 493.7 255.6 496.9 253C500.1 250.4 503 246.7 504.9 243C506.8 239.3 508.2 235 508.2 231C508.2 227 506.6 223 504.9 219C503.2 215 500.2 211.8 497.9 207C495.6 202.2 492.6 196.1 490.9 190C489.2 183.9 488.2 176.6 487.9 170.6C487.6 164.6 487 158.9 488.9 154C490.8 149.1 495.8 144 499.3 141C502.8 138 506 137.2 509.9 136C513.8 134.8 516.9 134.4 522.9 134C528.9 133.6 539.5 133.4 546 133.4C552.5 133.4 557.8 133.2 561.9 134C566 134.8 569.5 136.5 570.4 138.5C571.3 140.5 569.8 143.3 567.4 146C565 148.7 561.9 150.2 556.2 154.5C550.5 158.8 538.9 166.6 533.4 171.5C527.9 176.4 525.2 179.9 523.4 184C521.6 188.1 521.1 192.8 522.4 196C523.6 199.2 527.5 203.2 530.9 203.4C534.3 203.7 539.4 199.8 542.9 197.5C546.4 195.2 549.2 191.5 551.9 189.8C554.6 188.2 556.8 187.3 558.9 187.6C561 187.9 563.2 189.3 564.4 191.5C565.6 193.7 565.9 197.1 566.1 201C566.3 204.9 566.5 210.7 565.5 215C564.5 219.3 563.1 223.3 560.4 227C557.7 230.7 554.6 232.9 549.4 237C544.1 241.1 534.1 246.7 528.9 251.5C523.6 256.3 520.2 260.2 517.9 266C515.6 271.8 515.1 279.3 515.1 286C515.1 292.7 515.7 300.5 517.9 306.2C520.1 311.9 523.6 317.1 528.3 320C533 322.9 539.6 323.9 546 323.4C552.4 322.8 560.4 319.9 566.6 316.7C572.8 313.5 577.7 308.1 583.2 304.2C588.8 300.3 594.3 296.3 599.9 293.3C605.5 290.3 611 288.2 616.6 286.2C622.1 284.2 628.7 282.2 633.2 281.3C637.7 280.4 640.5 279.7 643.4 280.8C646.3 281.9 650.7 285.2 650.7 288C650.7 290.8 646.7 294.9 643.4 297.5C640.1 300.1 633.9 301 630.9 303.6C627.9 306.2 626 309.6 625.3 313.3C624.6 317 625.1 322.7 626.7 326C628.4 329.3 630.4 332.2 635.2 333.2C640 334.2 647.9 333.2 655.5 332.1C663.1 331 672.4 328.2 680.8 326.5C689.2 324.8 697.6 323.1 706 321.8C714.4 320.5 722.9 319.8 731.3 318.6C739.7 317.4 749.8 316.1 756.6 314.5C763.4 312.9 767.8 311 771.9 309C776 307 779.2 304.9 781.4 302.5C783.6 300.1 784.7 297.2 785.2 294.4" fill="none" stroke="#58595b" stroke-width="12.3"/>
<path d="M588.7 78.6C590 83.1 590.8 87.1 592.7 92C594.6 96.9 597.3 103.2 599.9 108C602.5 112.8 604.9 117.1 608.4 121C611.9 124.9 615.6 128.8 620.9 131.3C626.1 133.8 633.9 136.2 639.9 136.2C645.9 136.1 652.1 134.2 656.9 131C661.7 127.8 665.6 122 668.7 117C671.8 112 673.6 105.8 675.7 101C677.8 96.2 679.5 91.6 681.2 88.5C682.9 85.4 684.1 83.9 685.9 82.6C687.6 81.3 689.9 80.8 691.7 80.8" fill="none" stroke="#58595b" stroke-width="12.3"/>
<path d="M691.8 74.8V87M779.2 294.5H791.5" fill="none" stroke="#a2a3a5" stroke-width="0.6"/>
</g>
<path d="M465.3 115.2C472 127 478 136 492 141.5" fill="none" stroke="#58595b" stroke-width="4.4"/>
<g transform="rotate(4.5 413 216)"><rect x="393.2" y="177.2" width="39.6" height="77.6" rx="19.8" ry="19.8" fill="url(#oval)" stroke="#0b9444" stroke-width="1.4"/></g>
<path d="M413.8 177.6C412.8 174.7 411.1 170.8 410.7 168.9C410.3 167 411.2 167.2 411.2 166.3C411.3 165.4 411.2 164.3 411.1 163.3C411 162.2 410.7 160.8 410.7 159.8C410.7 158.8 410.7 157.9 411 157.1C411.4 156.3 412.1 155.3 412.8 154.9C413.6 154.4 414.5 154.4 415.6 154.6C416.6 154.8 417.7 155.2 419.1 155.8C420.4 156.4 422.2 157.9 423.5 158.2C424.7 158.5 425.4 157.7 426.5 157.6C427.6 157.5 428.9 157.3 429.9 157.8C431 158.3 432.2 159.4 432.8 160.4C433.3 161.5 433.6 163.2 433.2 164.1C432.8 165.1 431.4 166 430.3 166.3C429.1 166.6 427.6 166.6 426.4 166.2C425.1 165.8 423.7 164.4 422.5 163.9C421.4 163.4 420.5 163 419.5 163.1C418.5 163.2 416.9 163.7 416.6 164.6C416.2 165.6 416.5 167.4 417.5 168.8C418.5 170.1 420.6 172.1 422.7 172.8C424.7 173.5 427.8 173.4 429.9 172.9C432 172.4 434 170.8 435.3 169.6C436.6 168.5 437.3 167.6 437.8 166.1C438.4 164.6 439 162.4 438.7 160.4C438.5 158.5 437.5 156 436.4 154.4C435.4 152.9 433.9 151.9 432.5 151.1C431 150.3 429.2 149.9 427.5 149.7C425.7 149.6 423.6 150.1 422.1 150.1C420.5 150.1 419 150.2 418 149.7C417.1 149.2 416.5 148 416.5 147.2C416.4 146.4 417.1 145.5 417.6 144.8C418.2 144.1 419.1 143.7 419.8 143.2C420.5 142.7 421.2 142.2 421.8 141.8C422.3 141.3 422.8 140.9 423.1 140.3" fill="none" stroke="#ed1c24" stroke-width="1.4" stroke-linejoin="round" stroke-linecap="round"/>
<path d="M423.1 140.3C423.5 139.7 423.8 138.9 424 138.1C424.2 137.2 424.2 136.3 424.2 135.3C424.3 134.3 424.1 133.1 424.1 132.2C424.2 131.3 424.3 130.5 424.7 129.8C425.1 129.1 425.8 128.4 426.5 128.1C427.3 127.9 428.2 128 429.2 128.3C430.2 128.6 431.3 129.1 432.5 129.9C433.8 130.6 435.5 132.2 436.7 132.7C437.9 133.1 438.6 132.3 439.7 132.4C440.8 132.4 442.1 132.3 443.1 132.9C444.1 133.5 445.3 134.7 445.7 135.8C446.2 136.9 446.3 138.6 445.8 139.5C445.3 140.4 443.8 141.1 442.6 141.3C441.5 141.5 440 141.2 438.8 140.6C437.5 140.1 436.3 138.5 435.3 137.9C434.2 137.2 433.4 136.7 432.4 136.6C431.4 136.6 429.8 136.7 429.4 137.6C428.9 138.4 428.9 140.1 429.7 141.5C430.5 143 432.2 145.3 434.2 146.4C436.1 147.4 439.1 147.9 441.3 147.8C443.4 147.6 445.7 146.3 447.2 145.3C448.7 144.3 449.4 143.4 450.2 141.9C450.9 140.4 451.7 138.2 451.6 136.3C451.6 134.3 450.7 131.8 449.7 130.2C448.8 128.6 447.4 127.5 445.9 126.7C444.5 125.8 442.8 125.3 441.1 125C439.4 124.7 437.3 124.9 435.7 124.8C434.2 124.6 432.7 124.6 431.8 124.1C430.9 123.5 430.4 122.3 430.3 121.6C430.3 120.8 431 120 431.6 119.4C432.2 118.8 433.1 118.5 433.8 118C434.5 117.6 435.2 117.2 435.8 116.8C436.4 116.4 436.8 116 437.2 115.4C437.6 114.9 438 114.1 438.2 113.3C438.5 112.5 438.6 111.5 438.7 110.5C438.8 109.5 438.7 108.2 438.9 107.3C439.1 106.3 439.3 105.5 439.8 104.8C440.3 104.1 441.2 103.3 442 103.1C442.8 102.9 443.7 103.1 444.7 103.4C445.7 103.8 446.7 104.5 447.8 105.4C449 106.3 450.5 108.2 451.6 108.7C452.7 109.3 453.6 108.6 454.7 108.8C455.7 109 457 109 458 109.7C458.9 110.4 459.9 111.8 460.2 112.9C460.5 114.1 460.4 115.8 459.8 116.6C459.2 117.5 457.7 117.9 456.5 118C455.4 118.1 453.9 117.7 452.8 117C451.6 116.3 450.5 114.7 449.5 113.9C448.5 113.2 447.8 112.6 446.8 112.4C445.8 112.3 444.2 112.4 443.7 113.2C443.1 113.9 443 115.6 443.7 117.1C444.4 118.7 446 121.1 447.8 122.2C449.7 123.4 452.6 124.1 454.8 124.1C456.9 124.2 459.2 123.1 460.7 122.3C462.2 121.6 463 120.9 463.9 119.5C464.8 118.2 465.8 116.2 466 114.3C466.2 112.3 465.7 109.7 465 107.9C464.4 106.2 463.2 104.8 461.9 103.7C460.7 102.6 459 101.9 457.4 101.3C455.7 100.8 453.6 100.8 452 100.5C450.5 100.1 448.9 99.9 448.1 99.2C447.3 98.6 447 97.3 447.2 96.4C447.3 95.6 448.2 94.9 448.9 94.3C449.6 93.8 450.6 93.5 451.4 93.2C452.2 92.8 453 92.6 453.7 92.2C454.4 91.8 454.9 91.5 455.4 91C455.9 90.5 456.4 89.8 456.8 89C457.2 88.2 457.5 87.3 457.8 86.3C458.1 85.3 458.2 84 458.6 83.1C458.9 82.1 459.2 81.4 459.8 80.8C460.4 80.2 461.3 79.6 462.1 79.5C463 79.4 463.8 79.7 464.7 80.3C465.6 80.8 466.5 81.6 467.6 82.7C468.6 83.7 469.8 85.7 470.8 86.5C471.9 87.2 472.8 86.6 473.8 87C474.9 87.3 476.2 87.5 477 88.3C477.8 89.1 478.6 90.6 478.7 91.8C478.9 93 478.6 94.7 477.8 95.4C477.1 96.2 475.5 96.5 474.3 96.4C473.1 96.3 471.7 95.7 470.7 94.9C469.6 94 468.8 92.2 468 91.3C467.1 90.4 466.4 89.7 465.5 89.4C464.5 89.1 462.9 88.9 462.3 89.7C461.6 90.4 461.2 92.1 461.6 93.7C462 95.3 463.1 98 464.7 99.5C466.3 100.9 469.2 102.1 471.3 102.4C473.5 102.8 476 102 477.7 101.4C479.4 100.8 480.3 100.2 481.4 98.9C482.5 97.7 483.9 95.8 484.3 93.9C484.8 92 484.6 89.3 484.2 87.5C483.7 85.7 482.7 84.2 481.5 83C480.4 81.8 478.9 80.8 477.3 80C475.8 79.3 473.7 79 472.2 78.5C470.7 77.9 469.3 77.5 468.6 76.7C467.8 75.9 467.7 74.6 467.9 73.9C468.1 73.1 469 72.5 469.7 72.1C470.5 71.7 471.5 71.6 472.3 71.3C473.1 71.1 473.9 70.9 474.6 70.7C475.3 70.4 475.8 70.2 476.3 69.8C476.9 69.3 477.4 68.7 477.9 68C478.3 67.3 478.7 66.4 479.1 65.5C479.4 64.5 479.7 63.3 480.1 62.4C480.5 61.6 480.9 60.9 481.5 60.3C482.1 59.8 483.1 59.3 484 59.3C484.8 59.4 485.6 59.8 486.4 60.4C487.3 61 488.1 62 489 63.1C489.9 64.3 490.9 66.4 491.8 67.3C492.8 68.1 493.8 67.7 494.7 68.1C495.7 68.5 497 68.9 497.7 69.8C498.4 70.7 499.1 72.3 499.1 73.5C499.1 74.7 498.6 76.3 497.8 76.9C497 77.6 495.4 77.7 494.3 77.5C493.1 77.2 491.8 76.4 490.9 75.5C489.9 74.5 489.3 72.7 488.5 71.7C487.8 70.7 487.2 69.9 486.3 69.5C485.4 69.1 483.8 68.7 483.1 69.3C482.4 70 481.8 71.5 482.1 73.2C482.4 74.8 483.2 77.6 484.7 79.2C486.1 80.9 488.8 82.4 490.8 83C492.9 83.5 495.4 83.1 497.1 82.8C498.8 82.4 499.8 81.9 501 80.8C502.2 79.7 503.7 78 504.4 76.2C505 74.3 505.2 71.6 504.9 69.8C504.7 67.9 503.8 66.4 502.8 65C501.8 63.7 500.4 62.5 499 61.6C497.5 60.7 495.4 60.2 494 59.5C492.6 58.8 491.2 58.2 490.6 57.3C490 56.5 490 55.2 490.3 54.4C490.6 53.7 491.5 53.2 492.3 52.9C493.1 52.5 494.1 52.5 495 52.4C495.8 52.2 496.6 52.2 497.3 52C498.1 51.8 498.6 51.6 499.2 51.3C499.8 50.9 500.4 50.3 501 49.6C501.5 49 502 48.1 502.5 47.3C502.9 46.4 503.4 45.2 503.9 44.3C504.4 43.5 504.8 42.9 505.5 42.4C506.3 42 507.3 41.6 508.1 41.7C509 41.8 509.7 42.3 510.5 43C511.2 43.8 511.9 44.8 512.7 46C513.4 47.3 514.1 49.5 515 50.5C515.8 51.4 516.9 51.1 517.8 51.7C518.7 52.2 519.9 52.8 520.5 53.7C521.1 54.7 521.6 56.3 521.4 57.5C521.3 58.7 520.7 60.2 519.8 60.8C518.9 61.4 517.3 61.3 516.2 60.9C515.1 60.5 513.9 59.6 513.1 58.5C512.2 57.5 511.8 55.6 511.2 54.5C510.6 53.4 510.1 52.6 509.2 52.1C508.4 51.6 506.8 51 506.1 51.6C505.3 52.1 504.5 53.6 504.6 55.3C504.6 57 505.1 59.8 506.4 61.6C507.7 63.4 510.1 65.2 512.1 66C514.1 66.8 516.7 66.7 518.4 66.5C520.2 66.3 521.2 66 522.5 65C523.8 64.1 525.5 62.6 526.4 60.8C527.2 59.1 527.7 56.5 527.6 54.6C527.6 52.8 527 51.1 526.2 49.7C525.3 48.2 524.1 46.9 522.8 45.8C521.4 44.7 519.4 43.9 518.1 43C516.8 42.1 515.5 41.4 515 40.5C514.5 39.6 514.6 38.3 515 37.6C515.4 36.9 516.4 36.5 517.3 36.2C518.1 36 519.1 36.1 519.9 36.1C520.8 36.1 521.6 36.1 522.3 36C523.1 35.9 523.6 35.9 524.3 35.5C524.9 35.2 525.6 34.8 526.2 34.2C526.9 33.6 527.4 32.8 528 32C528.6 31.2 529.2 30 529.9 29.3C530.5 28.6 531 27.9 531.8 27.6C532.6 27.2 533.7 27 534.5 27.2C535.3 27.4 536 28 536.6 28.9C537.3 29.7 537.8 30.8 538.4 32.1C539 33.5 539.4 35.8 540.1 36.8C540.8 37.9 541.9 37.7 542.7 38.4C543.6 39.1 544.7 39.8 545.2 40.8C545.6 41.9 545.8 43.5 545.6 44.7C545.3 45.8 544.4 47.3 543.4 47.7C542.5 48.2 540.9 47.9 539.8 47.4C538.8 46.8 537.7 45.8 537 44.6C536.4 43.4 536.2 41.5 535.7 40.3C535.3 39.2 534.9 38.3 534.1 37.7C533.3 37.1 531.9 36.3 531 36.8C530.2 37.2 529.2 38.6 529.1 40.3C528.9 41.9 529.1 44.8 530.1 46.7C531.1 48.7 533.3 50.8 535.2 51.8C537 52.9 539.6 53.1 541.3 53.2C543 53.3 544.1 53 545.6 52.3C547 51.5 548.9 50.3 550 48.6C551.1 47 552 44.5 552.2 42.6C552.5 40.8 552.1 39 551.5 37.5C550.9 35.9 549.8 34.4 548.6 33.2C547.4 31.9 545.5 30.9 544.4 29.8C543.2 28.8 542 27.9 541.6 26.9C541.2 25.9 541.5 24.6 542 24C542.5 23.3 543.6 23.1 544.5 23C545.4 22.8 546.4 23.1 547.2 23.2C548.1 23.3 549 23.4 549.7 23.4C550.5 23.4 551.1 23.4 551.8 23.2C552.5 23 553.2 22.6 554 22.1C554.7 21.6 555.4 20.9 556.1 20.1C556.9 19.4 557.7 18.4 558.4 17.7C559.2 17.1 559.8 16.5 560.6 16.3C561.5 16 562.6 15.9 563.4 16.3C564.2 16.6 564.8 17.3 565.3 18.2C565.9 19.1 566.2 20.3 566.6 21.7C567 23.1 567 25.5 567.6 26.6C568.1 27.8 569.2 27.8 570 28.5C570.7 29.3 571.7 30.2 572 31.3C572.3 32.4 572.3 34.1 571.8 35.2C571.4 36.3 570.3 37.6 569.3 37.9C568.2 38.2 566.7 37.7 565.7 37C564.7 36.3 563.8 35.1 563.3 33.9C562.8 32.6 563 30.7 562.7 29.5C562.3 28.3 562.1 27.3 561.4 26.6C560.7 25.9 559.4 25 558.4 25.3C557.5 25.6 556.3 26.9 555.9 28.5C555.5 30.1 555.2 33 555.9 35.1C556.6 37.1 558.6 39.5 560.3 40.8C562 42.2 564.5 42.7 566.3 43C568 43.3 569.1 43.2 570.7 42.7C572.2 42.1 574.3 41.2 575.6 39.8C577 38.3 578.2 35.9 578.7 34.1C579.2 32.3 579.1 30.6 578.8 28.9C578.4 27.3 577.6 25.7 576.6 24.3C575.6 22.8 573.9 21.5 572.9 20.3C571.9 19.1 570.8 18 570.6 17C570.3 16 570.9 14.8 571.5 14.2C572.1 13.6 573.2 13.6 574.1 13.6C575 13.6 575.9 14 576.7 14.2C577.6 14.4 578.4 14.7 579.1 14.8C579.9 14.9 580.4 15 581.2 14.9C581.9 14.8 582.7 14.5 583.5 14.1C584.3 13.7 585 13.2 585.9 12.6C586.7 12 587.6 11 588.4 10.5C589.2 10 589.9 9.5 590.8 9.4C591.6 9.3 592.7 9.4 593.4 9.9C594.1 10.3 594.6 11.1 595 12.1C595.4 13 595.6 14.3 595.7 15.7C595.9 17.2 595.6 19.5 596 20.7C596.4 21.9 597.4 22.1 598 23C598.6 23.9 599.5 24.9 599.6 26C599.8 27.1 599.5 28.8 598.9 29.8C598.3 30.8 597 32 596 32.1C595 32.3 593.6 31.5 592.7 30.7C591.8 29.9 591.1 28.6 590.8 27.2C590.5 25.9 591 24 590.8 22.8C590.7 21.5 590.6 20.6 590 19.8C589.4 19 588.3 17.8 587.4 18C586.4 18.2 585.1 19.2 584.4 20.8C583.8 22.3 583 25.1 583.4 27.3C583.9 29.4 585.4 32.1 586.9 33.6C588.3 35.2 590.7 36.1 592.4 36.7C594 37.3 595.1 37.4 596.7 37.1C598.3 36.8 600.4 36.1 601.9 34.9C603.4 33.7 605 31.5 605.7 29.8C606.5 28.1 606.6 26.3 606.5 24.7C606.3 23 605.8 21.3 605 19.7C604.3 18.2 602.8 16.6 602 15.3C601.2 13.9 600.3 12.7 600.2 11.7C600.1 10.6 600.8 9.5 601.4 9C602.1 8.5 603.2 8.6 604 8.8C604.8 8.9 605.7 9.4 606.5 9.8C607.2 10.1 608 10.5 608.7 10.7C609.3 10.9 609.9 11.1 610.6 11.1" fill="none" stroke="#2e3192" stroke-width="1.4" stroke-linejoin="round" stroke-linecap="round"/>
<path d="M610.6 11.1C611.3 11.1 612.1 10.9 612.9 10.6C613.7 10.4 614.5 9.9 615.3 9.4C616.2 8.9 617.1 8.1 618 7.7C618.8 7.3 619.5 6.9 620.3 6.9C621.1 6.9 622.1 7.2 622.8 7.7C623.4 8.2 623.7 9.1 624 10.1C624.2 11.1 624.3 12.3 624.3 13.8C624.2 15.2 623.7 17.5 623.9 18.8C624.1 20 625.1 20.3 625.6 21.3C626.1 22.2 626.7 23.3 626.7 24.5C626.7 25.6 626.3 27.2 625.6 28.2C624.9 29.1 623.6 30.1 622.6 30.1C621.6 30.1 620.3 29.2 619.6 28.3C618.9 27.3 618.4 26 618.2 24.6C618.1 23.3 618.8 21.4 618.8 20.2C618.8 18.9 618.8 18 618.4 17.1C617.9 16.2 617 14.9 616.1 15C615.2 15 613.7 15.9 612.9 17.3C612.1 18.8 611.1 21.5 611.2 23.7C611.3 25.8 612.4 28.7 613.6 30.4C614.9 32.2 617.1 33.4 618.6 34.2C620.1 35 621.1 35.2 622.7 35.1C624.2 35 626.4 34.6 627.9 33.6C629.5 32.5 631.2 30.5 632.1 28.9C633 27.3 633.3 25.6 633.3 23.9C633.4 22.2 633 20.5 632.5 18.9C632 17.2 630.8 15.5 630.2 14.1C629.6 12.7 628.9 11.3 628.9 10.3C628.9 9.2 629.7 8.2 630.4 7.8C631 7.4 632 7.6 632.8 7.9C633.6 8.1 634.3 8.7 635 9.1C635.7 9.5 636.4 10 637 10.3C637.6 10.6 638.1 10.8 638.8 10.9C639.5 11 640.2 10.9 641 10.7C641.8 10.5 642.7 10.2 643.6 9.8C644.4 9.4 645.5 8.7 646.3 8.4C647.2 8.1 647.9 7.8 648.7 7.9C649.5 8 650.6 8.4 651.1 8.9C651.7 9.5 651.9 10.4 652 11.5C652.2 12.5 652.1 13.7 651.9 15.2C651.7 16.6 650.9 18.8 651 20.1C651.1 21.4 652 21.8 652.4 22.8C652.8 23.8 653.3 24.9 653.2 26.1C653.1 27.2 652.4 28.8 651.6 29.6C650.8 30.5 649.4 31.3 648.3 31.2C647.3 31.1 646.2 30 645.6 29C645 28 644.6 26.6 644.7 25.2C644.7 23.9 645.5 22.1 645.7 20.9C645.9 19.6 646 18.7 645.7 17.8C645.3 16.9 644.5 15.5 643.7 15.4C642.8 15.3 641.3 16 640.3 17.4C639.4 18.7 638.1 21.3 637.9 23.5C637.8 25.6 638.6 28.6 639.5 30.5C640.5 32.4 642.5 33.8 643.9 34.8C645.3 35.7 646.3 36.1 647.9 36.2C649.4 36.2 651.6 36.1 653.4 35.3C655.1 34.4 657.1 32.7 658.2 31.2C659.3 29.7 659.8 28 660.1 26.3C660.4 24.7 660.2 22.9 659.8 21.2C659.5 19.5 658.4 17.7 657.9 16.2C657.5 14.7 656.9 13.3 657.1 12.2C657.2 11.2 658.1 10.3 658.9 10C659.6 9.6 660.6 10 661.4 10.3C662.2 10.6 662.9 11.3 663.6 11.8C664.2 12.3 664.9 12.9 665.5 13.3C666.1 13.6 666.6 13.9 667.3 14.1C668 14.2 668.9 14.3 669.7 14.2C670.6 14.1 671.5 13.9 672.5 13.6C673.5 13.3 674.6 12.8 675.6 12.6C676.5 12.4 677.3 12.2 678.2 12.4C679 12.6 680 13.1 680.5 13.7C681 14.4 681.2 15.3 681.2 16.4C681.2 17.4 681 18.6 680.6 20C680.3 21.4 679.2 23.5 679.1 24.8C679 26.1 680 26.6 680.2 27.6C680.5 28.7 681 29.9 680.7 31C680.4 32.2 679.6 33.6 678.6 34.3C677.7 35.1 676.1 35.7 675.1 35.5C674 35.2 673 34 672.4 33C671.9 31.9 671.7 30.4 671.9 29.1C672.1 27.7 673.2 26.1 673.5 24.9C673.8 23.7 674.1 22.7 673.8 21.8C673.6 20.8 672.9 19.4 672 19.2C671 19 669.4 19.5 668.2 20.7C667.1 21.9 665.4 24.3 665 26.5C664.6 28.6 665.1 31.6 665.9 33.6C666.7 35.6 668.7 37.3 670 38.5C671.3 39.6 672.4 40.1 674 40.3C675.6 40.6 677.9 40.8 679.7 40.2C681.6 39.6 683.8 38.1 685.2 36.8C686.5 35.4 687.2 33.8 687.7 32.2C688.2 30.6 688.2 28.8 688.1 27.1C687.9 25.4 687 23.4 686.7 21.9C686.4 20.3 686 18.8 686.3 17.8C686.6 16.8 687.7 16 688.5 15.8C689.2 15.6 690.3 16.1 691 16.5C691.8 16.9 692.4 17.7 693 18.3C693.7 18.9 694.2 19.5 694.8 20C695.4 20.4 695.9 20.8 696.6 21C697.3 21.3 698.1 21.5 699 21.5C699.8 21.5 700.8 21.4 701.8 21.3C702.8 21.2 704.1 20.8 705 20.7C706 20.7 706.8 20.6 707.6 20.9C708.4 21.2 709.4 21.9 709.8 22.6C710.2 23.3 710.2 24.2 710.1 25.3C710 26.3 709.5 27.5 709 28.8C708.4 30.2 707 32.1 706.8 33.3C706.5 34.6 707.4 35.2 707.5 36.3C707.6 37.4 707.8 38.6 707.4 39.7C707 40.8 705.9 42.1 704.9 42.7C703.9 43.3 702.2 43.7 701.3 43.3C700.3 42.9 699.4 41.6 699.1 40.5C698.7 39.3 698.7 37.8 699.1 36.5C699.4 35.2 700.8 33.8 701.2 32.6C701.7 31.5 702.1 30.6 702 29.6C701.9 28.6 701.4 27.1 700.5 26.8C699.6 26.5 697.9 26.7 696.6 27.8C695.3 28.8 693.3 30.9 692.6 33C691.9 35.1 692 38.1 692.5 40.2C693.1 42.3 694.7 44.3 695.9 45.6C697 46.9 698 47.5 699.5 48C701 48.5 703.2 48.9 705.1 48.6C707 48.3 709.4 47.1 710.9 46C712.4 44.9 713.3 43.4 714 41.9C714.8 40.3 715.1 38.6 715.2 36.8C715.3 35.1 714.7 33 714.7 31.5C714.6 29.9 714.4 28.4 714.9 27.4C715.3 26.5 716.5 25.8 717.3 25.7C718 25.6 719 26.3 719.6 26.8C720.3 27.3 720.8 28.2 721.3 28.8C721.8 29.5 722.3 30.2 722.8 30.7C723.3 31.3 723.7 31.7 724.3 32C724.9 32.3 725.7 32.6 726.5 32.7C727.4 32.9 728.3 32.9 729.3 32.9C730.3 32.9 731.5 32.6 732.5 32.7C733.4 32.7 734.2 32.8 734.9 33.2C735.6 33.5 736.4 34.3 736.7 35C737 35.8 737 36.7 736.7 37.7C736.4 38.7 735.9 39.8 735.2 41.1C734.5 42.4 732.9 44.1 732.5 45.3C732.1 46.5 732.8 47.3 732.8 48.3C732.8 49.4 732.9 50.7 732.4 51.7C731.8 52.7 730.7 53.9 729.6 54.4C728.5 54.9 726.8 55.1 725.9 54.6C724.9 54.1 724.2 52.7 724 51.5C723.8 50.3 724 48.9 724.5 47.6C725.1 46.4 726.5 45.1 727.2 44C727.8 42.9 728.3 42.1 728.3 41.1C728.3 40.1 728.1 38.5 727.3 38.1C726.4 37.7 724.7 37.8 723.3 38.6C721.9 39.5 719.7 41.3 718.7 43.3C717.8 45.3 717.4 48.3 717.6 50.4C717.8 52.6 719.2 54.7 720.2 56.2C721.2 57.6 722.1 58.3 723.5 59C725 59.7 727.2 60.4 729.1 60.3C731.1 60.2 733.6 59.3 735.2 58.3C736.8 57.4 737.9 56 738.8 54.6C739.6 53.1 740.1 51.4 740.4 49.7C740.7 48 740.4 45.9 740.5 44.3C740.6 42.8 740.6 41.2 741.1 40.3C741.7 39.4 742.9 38.9 743.7 38.9C744.5 38.9 745.3 39.6 745.9 40.2C746.5 40.8 746.9 41.7 747.4 42.4C747.9 43.1 748.2 43.9 748.7 44.5C749.2 45.1 749.5 45.5 750.1 46C750.7 46.4 751.5 46.7 752.3 47C753.2 47.3 754.1 47.4 755.2 47.5C756.2 47.7 757.5 47.7 758.5 47.9C759.5 48.1 760.3 48.3 761 48.8C761.7 49.3 762.5 50.2 762.7 51.1C763 51.9 762.7 52.8 762.3 53.8C761.9 54.7 761.2 55.7 760.3 56.9C759.4 58 757.5 59.4 756.9 60.6C756.3 61.7 757 62.6 756.8 63.6C756.6 64.7 756.5 66 755.8 66.9C755.1 67.8 753.7 68.8 752.6 69.1C751.4 69.4 749.7 69.3 748.9 68.7C748.1 68.1 747.6 66.5 747.6 65.4C747.5 64.2 747.9 62.7 748.6 61.6C749.3 60.4 750.9 59.4 751.7 58.4C752.5 57.4 753.1 56.6 753.2 55.7C753.4 54.7 753.3 53 752.5 52.5C751.7 52 750 51.8 748.4 52.5C746.9 53.1 744.5 54.7 743.3 56.5C742.1 58.4 741.4 61.3 741.4 63.5C741.4 65.6 742.4 67.9 743.2 69.5C743.9 71 744.6 71.8 745.9 72.7C747.2 73.6 749.2 74.6 751.1 74.8C753 75 755.7 74.6 757.4 74C759.2 73.4 760.5 72.2 761.7 71C762.8 69.7 763.6 68.1 764.2 66.5C764.8 64.8 764.8 62.7 765.2 61.2C765.6 59.6 765.8 58.1 766.5 57.3C767.2 56.5 768.5 56.3 769.3 56.4C770.1 56.5 770.8 57.4 771.3 58.1C771.9 58.8 772.1 59.8 772.4 60.6C772.7 61.4 773 62.2 773.3 62.9C773.6 63.6 773.9 64.1 774.4 64.6C774.9 65.1 775.6 65.5 776.3 65.9C777.1 66.3 778 66.6 779 66.8C779.9 67.1 781.2 67.2 782 67.5C782.9 67.8 783.7 68 784.2 68.6C784.8 69.1 785.4 70 785.4 70.8C785.5 71.6 785.2 72.5 784.6 73.4C784.1 74.3 783.3 75.2 782.3 76.2C781.3 77.3 779.3 78.5 778.6 79.6C777.9 80.7 778.4 81.6 778.1 82.6C777.8 83.6 777.6 84.9 776.8 85.8C776 86.6 774.6 87.5 773.4 87.6C772.2 87.8 770.5 87.5 769.7 86.8C769 86.1 768.6 84.5 768.7 83.3C768.8 82.1 769.4 80.7 770.3 79.7C771.1 78.6 772.9 77.8 773.8 76.9C774.7 76.1 775.4 75.4 775.7 74.5C776 73.5 776.2 71.9 775.5 71.3C774.9 70.7 773.2 70.2 771.6 70.7C770 71.1 767.3 72.2 765.8 73.8C764.3 75.4 763.1 78.2 762.8 80.3C762.4 82.5 763.2 85 763.7 86.7C764.3 88.4 765 89.4 766.3 90.5C767.6 91.6 769.6 92.9 771.5 93.3C773.4 93.7 776.1 93.4 777.8 92.8C779.6 92.3 781 91.2 782.2 90C783.4 88.8 784.3 87.3 785 85.7C785.7 84.1 785.9 82 786.4 80.6C786.9 79.1 787.3 77.6 788.1 76.9C788.8 76.2 790.1 75.9 790.8 76.1C791.6 76.2 792.2 77.1 792.6 77.8C793.1 78.5 793.2 79.5 793.4 80.3C793.7 81 793.9 81.9 794.2 82.5C794.4 83.2 794.7 83.7 795.1 84.2C795.6 84.7 796.2 85.2 797 85.6C797.7 86.1 798.6 86.4 799.5 86.7C800.5 87.1 801.8 87.3 802.6 87.7C803.5 88.1 804.3 88.4 804.8 89.1C805.4 89.7 805.9 90.8 806 91.6C806 92.4 805.6 93.3 805 94.1C804.3 95 803.4 95.8 802.3 96.7C801.2 97.6 799 98.6 798.2 99.6C797.4 100.6 797.8 101.6 797.4 102.6C797 103.6 796.6 104.8 795.7 105.5C794.8 106.3 793.3 106.9 792.1 107C790.9 107 789.3 106.6 788.7 105.8C788 105.1 787.9 103.5 788.1 102.3C788.3 101.2 789 99.9 790 98.9C790.9 97.9 792.7 97.2 793.7 96.5C794.7 95.7 795.4 95 795.8 94.1C796.1 93.2 796.5 91.6 795.8 91C795.2 90.3 793.6 89.8 792 90.1C790.3 90.4 787.6 91.4 786 92.9C784.5 94.4 783.1 97.1 782.6 99.2C782 101.3 782.5 103.8 782.9 105.4C783.3 107 783.8 108 784.9 109.1C786 110.2 787.6 111.6 789.4 112.2C791.2 112.8 793.9 113 795.7 112.7C797.6 112.5 799.2 111.7 800.5 110.7C801.9 109.7 803 108.3 804 106.9C804.9 105.4 805.4 103.3 806.1 101.9C806.8 100.5 807.4 99 808.2 98.4C809 97.8 810.4 97.8 811.1 98.1C811.9 98.4 812.4 99.5 812.8 100.3C813.1 101.1 813.1 102.1 813.3 103C813.4 103.8 813.5 104.7 813.7 105.4C813.9 106.2 814 106.7 814.4 107.4C814.8 108 815.4 108.7 816 109.2C816.7 109.8 817.5 110.3 818.4 110.9C819.3 111.4 820.6 111.9 821.4 112.5C822.2 113.1 822.9 113.6 823.3 114.3C823.7 115.1 824.1 116.2 824 117C823.8 117.9 823.3 118.6 822.5 119.4C821.8 120.1 820.7 120.7 819.4 121.4C818.2 122.1 815.9 122.7 814.9 123.5C813.9 124.4 814.2 125.4 813.6 126.3C813 127.2 812.4 128.4 811.4 129C810.4 129.5 808.8 129.9 807.6 129.7C806.4 129.5 804.9 128.8 804.3 127.9C803.8 127 804 125.4 804.4 124.2C804.8 123.1 805.7 122 806.8 121.2C807.9 120.4 809.9 120.1 811 119.5C812.1 118.9 812.9 118.4 813.4 117.6C813.9 116.7 814.5 115.2 814 114.4C813.5 113.6 812 112.7 810.3 112.7C808.6 112.7 805.7 113.1 803.9 114.3C802.1 115.6 800.3 118 799.4 120C798.5 122 798.6 124.5 798.7 126.3C798.8 128 799.1 129 800 130.4C800.9 131.8 802.3 133.5 804 134.5C805.7 135.4 808.4 136.1 810.2 136.2C812.1 136.2 813.8 135.7 815.3 134.9C816.8 134.2 818.2 133 819.3 131.7C820.5 130.4 821.3 128.4 822.3 127.2C823.2 125.9 824 124.6 824.9 124.2C825.9 123.7 827.2 123.9 827.9 124.3C828.6 124.8 828.9 125.8 829.1 126.7C829.3 127.5 829.1 128.5 829.1 129.4C829.1 130.2 829 131.1 829.1 131.8C829.2 132.5 829.2 133.1 829.5 133.7C829.8 134.4 830.2 135.1 830.8 135.7C831.3 136.3 832.1 136.9 832.9 137.5C833.7 138.1 834.8 138.7 835.5 139.3C836.2 139.9 836.8 140.4 837.1 141.2C837.4 141.9 837.6 142.9 837.4 143.7C837.2 144.5 836.5 145.1 835.7 145.8C834.9 146.4 833.8 147 832.5 147.6C831.1 148.1 828.8 148.6 827.7 149.3C826.7 150 826.9 151.1 826.2 151.9C825.5 152.7 824.8 153.9 823.8 154.3C822.7 154.8 821.1 155 819.9 154.8C818.8 154.5 817.3 153.6 816.8 152.6C816.4 151.6 816.7 150 817.2 149C817.8 147.9 818.9 146.9 820 146.2C821.2 145.5 823.2 145.5 824.3 145C825.5 144.5 826.4 144.2 827 143.4C827.6 142.6 828.4 141.2 828 140.4C827.6 139.6 826.3 138.6 824.6 138.3C823 138.1 820 138.1 818.1 139.1C816.1 140 813.9 142.1 812.8 144C811.7 145.9 811.4 148.5 811.3 150.3C811.3 152 811.5 153.2 812.3 154.7C813.1 156.2 814.4 158.2 816 159.3C817.7 160.4 820.2 161.2 822.1 161.4C824 161.5 825.7 161.1 827.2 160.4C828.8 159.8 830.2 158.7 831.4 157.5C832.7 156.3 833.7 154.4 834.7 153.2C835.7 152.1 836.7 150.9 837.6 150.5C838.6 150 839.8 150.3 840.5 150.8C841.2 151.2 841.4 152.3 841.5 153.1C841.7 153.9 841.4 154.9 841.4 155.8C841.3 156.6 841.2 157.4 841.2 158.2C841.2 158.9 841.2 159.5 841.4 160.1C841.7 160.8 842.1 161.5 842.6 162.2C843.1 162.9 843.8 163.6 844.6 164.3C845.3 165 846.4 165.8 847.1 166.5C847.7 167.2 848.3 167.8 848.6 168.7C848.8 169.5 848.9 170.7 848.6 171.5C848.3 172.3 847.6 172.9 846.7 173.4C845.8 174 844.7 174.4 843.3 174.8C841.9 175.2 839.5 175.3 838.4 175.8C837.2 176.4 837.3 177.5 836.5 178.3C835.7 179 834.9 180 833.8 180.4C832.7 180.7 831 180.7 829.9 180.2C828.8 179.8 827.5 178.8 827.1 177.8C826.8 176.8 827.3 175.3 828 174.3C828.6 173.3 829.8 172.4 831 171.9C832.3 171.3 834.2 171.4 835.4 171.1C836.6 170.7 837.6 170.4 838.2 169.7C838.9 169 839.8 167.7 839.5 166.8C839.2 165.9 837.9 164.7 836.2 164.4C834.6 164 831.7 163.9 829.7 164.7C827.7 165.5 825.3 167.4 824.1 169.2C822.8 170.9 822.3 173.4 822 175.1C821.7 176.8 821.8 177.8 822.4 179.3C822.9 180.8 823.9 182.8 825.4 184.1C826.8 185.4 829.2 186.6 831 187.1C832.8 187.6 834.6 187.4 836.2 187.1C837.8 186.7 839.4 185.9 840.9 184.9C842.3 183.9 843.6 182.1 844.8 181.1C846 180.1 847 179 848.1 178.7C849.1 178.5 850.3 179 850.9 179.6C851.5 180.2 851.5 181.4 851.6 182.3C851.6 183.2 851.2 184.1 851 185C850.8 185.8 850.5 186.6 850.4 187.4C850.3 188.1 850.2 188.7 850.3 189.4C850.4 190.2 850.7 191 851.1 191.8C851.5 192.6 852 193.4 852.6 194.2C853.3 195 854.2 195.9 854.7 196.8C855.3 197.6 855.7 198.3 855.8 199.1C855.9 199.9 855.9 201.1 855.4 201.8C855 202.5 854.2 203 853.2 203.4C852.3 203.8 851 204 849.6 204.2C848.2 204.3 845.8 204 844.6 204.4C843.4 204.8 843.2 205.9 842.4 206.5C841.5 207.2 840.5 208 839.4 208.2C838.2 208.3 836.6 208.1 835.5 207.5C834.5 206.9 833.3 205.6 833.2 204.6C833 203.5 833.8 202.1 834.6 201.2C835.4 200.3 836.7 199.6 838 199.3C839.3 198.9 841.2 199.4 842.5 199.3C843.7 199.1 844.7 199 845.5 198.4C846.3 197.8 847.4 196.7 847.2 195.7C847.1 194.8 846 193.4 844.4 192.7C842.9 192.1 840.1 191.4 837.9 191.8C835.8 192.2 833.1 193.8 831.6 195.3C830 196.8 829.1 199.2 828.5 200.9C828 202.6 827.9 203.7 828.2 205.3C828.6 206.9 829.3 209.1 830.5 210.6C831.7 212.2 833.9 213.7 835.7 214.4C837.4 215.1 839.1 215.2 840.8 215.1C842.5 214.9 844.2 214.3 845.7 213.5C847.3 212.8 848.8 211.3 850.1 210.4C851.4 209.6 852.7 208.7 853.7 208.6C854.8 208.5 855.9 209.2 856.4 209.8C856.9 210.4 856.8 211.6 856.7 212.4C856.6 213.2 856 214.1 855.7 214.9C855.4 215.7 855 216.4 854.8 217.1C854.6 217.8 854.4 218.4 854.5 219.1C854.5 219.8 854.6 220.6 854.9 221.4C855.2 222.2 855.7 223.1 856.2 223.9C856.7 224.8 857.5 225.8 857.9 226.6C858.4 227.5 858.7 228.2 858.7 229C858.7 229.9 858.5 231 858 231.6C857.5 232.3 856.7 232.6 855.6 232.9C854.6 233.2 853.4 233.2 851.9 233.2C850.5 233.2 848.2 232.7 846.9 232.9C845.7 233.2 845.4 234.2 844.5 234.7C843.5 235.2 842.4 235.9 841.3 235.9C840.1 236 838.5 235.5 837.6 234.8C836.6 234.1 835.6 232.7 835.6 231.7C835.6 230.6 836.5 229.3 837.4 228.6C838.3 227.8 839.7 227.3 841 227.1C842.4 227 844.2 227.6 845.5 227.6C846.7 227.6 847.7 227.6 848.6 227.2C849.4 226.7 850.7 225.7 850.6 224.8C850.6 223.8 849.7 222.4 848.2 221.6C846.8 220.8 844.1 219.7 841.9 219.9C839.7 220 836.9 221.2 835.2 222.5C833.4 223.8 832.2 226 831.4 227.6C830.7 229.1 830.5 230.2 830.6 231.8C830.7 233.4 831.1 235.6 832.2 237.3C833.2 238.9 835.2 240.7 836.9 241.6C838.5 242.5 840.2 242.8 841.9 242.9C843.6 243 845.3 242.6 846.9 242C848.6 241.4 850.3 240.1 851.7 239.4C853.1 238.8 854.4 238.1 855.5 238.1C856.5 238.1 857.6 238.9 858 239.6C858.4 240.3 858.2 241.4 857.9 242.2C857.7 243 857.1 243.8 856.7 244.5C856.3 245.3 855.8 246 855.5 246.6C855.2 247.3 855 247.8 854.9 248.5C854.9 249.3 854.9 250.1 855.1 250.9C855.3 251.7 855.7 252.6 856.1 253.6C856.5 254.5 857.2 255.6 857.5 256.5C857.8 257.4 858.1 258.1 858 259C857.9 259.8 857.6 260.9 857 261.5C856.4 262 855.5 262.3 854.5 262.5C853.4 262.6 852.2 262.6 850.8 262.4C849.3 262.2 847.1 261.4 845.8 261.5C844.6 261.6 844.2 262.6 843.2 263C842.2 263.4 841 264 839.9 263.9C838.7 263.8 837.2 263.2 836.3 262.3C835.4 261.5 834.6 260 834.7 258.9C834.8 257.9 835.9 256.6 836.9 256C837.9 255.3 839.3 254.9 840.7 254.9C842 254.9 843.7 255.8 845 256C846.2 256.1 847.2 256.3 848.1 255.9C849 255.5 850.4 254.7 850.5 253.7C850.5 252.8 849.8 251.2 848.5 250.2C847.1 249.3 844.5 247.9 842.4 247.8C840.2 247.7 837.3 248.5 835.4 249.6C833.5 250.7 832 252.8 831.1 254.2C830.1 255.7 829.8 256.8 829.7 258.5C829.7 260.1 829.8 262.4 830.7 264.2C831.5 266 833.3 268 834.8 269.2C836.3 270.3 838 270.8 839.6 271.1C841.3 271.3 843.1 271.1 844.8 270.7C846.5 270.3 848.3 269.2 849.8 268.7C851.3 268.2 852.7 267.6 853.7 267.7C854.8 267.9 855.7 268.8 856 269.6C856.3 270.3 856 271.4 855.7 272.2C855.3 273 854.6 273.8 854.1 274.5C853.6 275.2 853.1 275.9 852.7 276.5C852.3 277.2 852 277.7 851.9 278.4C851.7 279.1 851.7 280 851.7 280.9C851.8 281.8 852.1 282.7 852.3 283.7C852.6 284.7 853.1 286 853.3 286.9C853.4 287.9 853.6 288.7 853.4 289.6C853.1 290.4 852.6 291.5 851.9 292C851.3 292.5 850.3 292.6 849.3 292.6C848.2 292.6 847 292.3 845.6 291.9C844.2 291.5 842.2 290.3 840.9 290.2C839.7 290.1 839.1 291 838 291.2C837 291.4 835.7 291.8 834.6 291.5C833.5 291.2 832.1 290.3 831.4 289.3C830.7 288.4 830.1 286.9 830.4 285.9C830.6 284.9 831.9 283.9 832.9 283.4C834 282.9 835.5 282.8 836.8 283C838.2 283.2 839.8 284.3 841 284.6C842.2 285 843.1 285.2 844.1 285C845 284.7 846.5 284.1 846.7 283.1C846.9 282.2 846.4 280.5 845.2 279.3C844 278.2 841.6 276.5 839.5 276.1C837.3 275.7 834.3 276.2 832.3 277C830.3 277.8 828.6 279.6 827.5 280.9C826.3 282.2 825.9 283.1 825.5 284.6C825.2 286.2 825 288.3 825.6 290.1C826.1 291.9 827.5 294.1 828.8 295.5C830 296.9 831.6 297.7 833.2 298.2C834.8 298.8 836.6 299 838.3 298.9C840 298.8 842 298.1 843.6 297.9C845.1 297.7 846.6 297.4 847.6 297.7C848.6 298 849.3 299.1 849.5 299.9C849.7 300.7 849.2 301.7 848.7 302.4C848.3 303.1 847.4 303.7 846.8 304.2C846.2 304.8 845.5 305.3 845.1 305.9C844.6 306.4 844.2 306.8 844 307.5C843.7 308.1 843.5 308.9 843.4 309.7C843.4 310.6 843.5 311.5 843.6 312.5C843.7 313.4 844 314.7 844.1 315.6C844.1 316.5 844.2 317.3 843.9 318C843.6 318.7 843 319.6 842.2 319.9C841.5 320.3 840.6 320.3 839.6 320.2C838.5 320 837.4 319.6 836 319C834.7 318.5 832.8 317 831.6 316.8C830.3 316.5 829.7 317.4 828.6 317.5C827.5 317.6 826.2 317.9 825.2 317.4C824.1 317 822.8 315.9 822.2 314.9C821.6 313.9 821.2 312.2 821.6 311.2C822 310.2 823.4 309.3 824.5 309C825.7 308.6 827.2 308.7 828.5 309.1C829.7 309.5 831.2 310.9 832.3 311.4C833.4 311.9 834.3 312.3 835.3 312.2C836.3 312.2 837.8 311.8 838.2 310.9C838.5 310.1 838.3 308.4 837.3 307.1C836.3 305.8 834.2 303.7 832.2 303C830.2 302.2 827.1 302 825 302.5C822.9 302.9 820.9 304.5 819.5 305.6C818.2 306.8 817.5 307.7 817 309.3C816.4 310.9 815.9 313.3 816.2 315.2C816.5 317.2 817.7 319.6 818.9 321.1C820 322.6 821.5 323.6 823.1 324.2C824.6 324.9 826.4 325.2 828.1 325.2C829.8 325.3 831.9 324.7 833.5 324.6C835 324.5 836.5 324.4 837.5 324.8C838.5 325.2 839.1 326.3 839.2 327.1C839.4 327.9 838.8 328.8 838.3 329.5C837.7 330.2 836.9 330.7 836.2 331.2C835.6 331.8 834.9 332.3 834.3 332.8C833.8 333.3 833.4 333.7 833.1 334.4C832.8 335 832.5 335.8 832.4 336.7C832.2 337.6 832.2 338.5 832.2 339.6C832.3 340.6 832.5 341.9 832.4 342.9C832.4 343.9 832.3 344.7 831.9 345.5C831.5 346.3 830.7 347.2 830 347.5C829.2 347.8 828.2 347.8 827.2 347.5C826.2 347.3 825.1 346.7 823.8 346C822.6 345.3 820.9 343.6 819.7 343.2C818.4 342.8 817.7 343.6 816.6 343.6C815.5 343.6 814.2 343.7 813.2 343.1C812.2 342.6 811 341.3 810.6 340.2C810.1 339.2 809.9 337.5 810.4 336.6C810.9 335.6 812.3 334.9 813.5 334.7C814.7 334.5 816.1 334.6 817.4 335.2C818.6 335.7 819.9 337.1 821 337.7C822.1 338.4 823 338.9 823.9 338.8C824.9 338.8 826.5 338.5 827 337.7C827.4 336.8 827.3 335 826.4 333.6C825.5 332.2 823.7 330 821.7 329.1C819.7 328.1 816.7 327.9 814.5 328.2C812.4 328.5 810.2 329.9 808.8 330.9C807.4 331.9 806.7 332.8 806 334.2C805.3 335.7 804.6 337.8 804.7 339.7C804.8 341.6 805.6 344.2 806.5 345.8C807.4 347.4 808.8 348.6 810.2 349.5C811.6 350.4 813.3 350.9 815 351.3C816.7 351.6 818.9 351.3 820.4 351.4C822 351.6 823.5 351.6 824.4 352.1C825.3 352.7 825.8 353.9 825.8 354.7C825.8 355.5 825 356.4 824.4 357C823.8 357.6 822.8 358 822.1 358.4C821.4 358.9 820.6 359.2 820 359.7C819.4 360.1 818.9 360.4 818.5 361C818.1 361.6 817.7 362.4 817.5 363.2C817.2 364 817.1 364.9 816.9 365.9C816.8 366.9 816.8 368.2 816.6 369.1C816.4 370.1 816.3 370.8 815.8 371.5C815.3 372.1 814.5 372.9 813.7 373.1C812.9 373.2 812 373 811 372.6C810.1 372.2 809.1 371.5 807.9 370.6C806.7 369.8 805.3 367.9 804.1 367.3C803 366.8 802.1 367.4 801.1 367.3C800 367.1 798.7 367 797.8 366.3C796.9 365.6 795.9 364.3 795.5 363.1C795.2 362 795.3 360.3 795.9 359.5C796.5 358.6 798 358.1 799.2 358.1C800.4 358 801.8 358.4 803 359.1C804.1 359.8 805.2 361.5 806.2 362.3C807.2 363 807.9 363.6 808.9 363.8C809.9 363.9 811.5 363.9 812 363.2C812.5 362.4 812.7 360.7 812.1 359.2C811.4 357.6 809.9 355.2 808.1 353.9C806.3 352.7 803.4 351.9 801.2 351.9C799 351.8 796.7 352.9 795.1 353.6C793.6 354.4 792.7 355.2 791.8 356.5C790.9 357.9 789.9 359.9 789.7 361.9C789.6 363.8 790.1 366.4 790.8 368.1C791.6 369.9 792.8 371.1 794.1 372.2C795.4 373.3 797 374 798.7 374.5C800.3 375.1 802.4 375 804 375.4C805.5 375.7 807 375.9 807.8 376.6C808.6 377.3 809 378.5 808.9 379.3C808.8 380.1 808 380.8 807.3 381.3C806.6 381.9 805.7 382.1 804.9 382.4C804.1 382.8 803.3 383.1 802.7 383.4C802.1 383.8 801.6 384.1 801.1 384.6C800.6 385.1 800.2 385.8 799.8 386.6C799.4 387.4 799.2 388.3 798.9 389.3C798.7 390.2 798.6 391.5 798.3 392.4C798 393.4 797.7 394.1 797.1 394.8C796.6 395.4 795.6 396 794.8 396.1C794 396.2 793.1 395.9 792.2 395.4C791.3 394.9 790.3 394.1 789.3 393C788.3 392 787 390 786 389.3C784.9 388.6 784 389.1 782.9 388.8C781.9 388.5 780.6 388.3 779.8 387.5C779 386.7 778.1 385.2 778 384C777.8 382.9 778.1 381.2 778.8 380.4C779.5 379.7 781.1 379.4 782.2 379.5C783.4 379.6 784.8 380.1 785.9 381C786.9 381.8 787.8 383.6 788.7 384.4C789.6 385.3 790.2 386 791.2 386.3C792.1 386.5 793.8 386.7 794.4 386C795 385.3 795.4 383.6 794.9 382C794.4 380.4 793.2 377.8 791.5 376.4C789.9 375 787 373.8 784.9 373.6C782.8 373.3 780.3 374 778.7 374.6C777.1 375.2 776.2 375.8 775.1 377C774.1 378.3 772.8 380.1 772.4 382C772 383.9 772.1 386.6 772.6 388.4C773.1 390.2 774.1 391.7 775.2 392.9C776.4 394.1 777.9 395.1 779.5 395.8C781 396.6 783.2 396.8 784.6 397.3C786.1 397.9 787.6 398.3 788.3 399.1C789 399.8 789.2 401.1 789 401.9C788.8 402.7 787.8 403.3 787.1 403.8C786.3 404.2 785.3 404.3 784.5 404.6C783.7 404.8 782.8 405 782.1 405.3C781.4 405.5 780.9 405.8 780.3 406.2C779.8 406.7 779.2 407.3 778.7 408C778.3 408.8 777.9 409.7 777.5 410.6C777.1 411.5 776.8 412.8 776.3 413.7C775.9 414.5 775.5 415.3 774.9 415.8C774.2 416.3 773.2 416.8 772.3 416.8C771.5 416.8 770.7 416.4 769.9 415.7C769 415.1 768.2 414.1 767.4 413C766.5 411.8 765.5 409.6 764.6 408.8C763.6 407.9 762.6 408.3 761.7 407.9C760.7 407.5 759.5 407 758.7 406.1C758 405.2 757.4 403.6 757.4 402.4C757.4 401.3 757.9 399.6 758.8 399C759.6 398.3 761.2 398.3 762.3 398.5C763.5 398.8 764.8 399.5 765.7 400.5C766.7 401.5 767.2 403.4 768 404.4C768.7 405.4 769.3 406.1 770.2 406.5C771.1 406.9 772.7 407.3 773.4 406.7C774.1 406.1 774.8 404.5 774.6 402.8C774.3 401.1 773.5 398.4 772.1 396.7C770.6 395.1 768 393.6 765.9 393C763.8 392.4 761.3 392.8 759.5 393.2C757.8 393.5 756.8 394 755.6 395.1C754.4 396.2 752.9 397.8 752.2 399.7C751.5 401.5 751.3 404.1 751.5 406C751.8 407.9 752.6 409.4 753.5 410.8C754.5 412.2 755.8 413.3 757.3 414.3C758.7 415.3 760.8 415.8 762.2 416.5C763.6 417.3 765 417.9 765.6 418.8C766.2 419.6 766.2 420.9 765.8 421.7C765.5 422.4 764.5 422.9 763.7 423.2C762.9 423.5 761.9 423.5 761.1 423.6C760.2 423.8 759.4 423.8 758.7 424C758 424.1 757.4 424.3 756.8 424.7C756.2 425 755.6 425.6 755 426.2C754.5 426.9 754 427.7 753.5 428.6C752.9 429.4 752.5 430.6 752 431.4C751.4 432.2 751 432.9 750.3 433.3C749.5 433.8 748.5 434.1 747.7 434C746.8 433.9 746.1 433.3 745.3 432.6C744.6 431.8 743.9 430.8 743.2 429.6C742.5 428.3 741.8 426 741 425.1C740.1 424.1 739.1 424.4 738.2 423.8C737.3 423.3 736.1 422.7 735.5 421.7C734.9 420.7 734.5 419.1 734.6 417.9C734.8 416.7 735.5 415.2 736.4 414.6C737.3 414.1 738.9 414.2 740.1 414.6C741.2 415 742.3 415.9 743.1 417C744 418.1 744.3 420 744.9 421.1C745.5 422.2 746 423 746.8 423.6C747.7 424.1 749.2 424.7 750 424.2C750.7 423.6 751.6 422.1 751.6 420.5C751.5 418.8 751.1 415.9 749.9 414.1C748.7 412.3 746.3 410.4 744.3 409.6C742.3 408.7 739.7 408.8 738 408.9C736.2 409 735.2 409.4 733.8 410.3C732.4 411.3 730.7 412.8 729.8 414.5C728.8 416.3 728.3 418.9 728.3 420.8C728.2 422.7 728.9 424.3 729.6 425.8C730.4 427.3 731.7 428.6 733 429.7C734.3 430.8 736.3 431.6 737.6 432.5C738.9 433.4 740.2 434.2 740.7 435.1C741.2 436 741 437.3 740.6 438C740.3 438.7 739.2 439.1 738.4 439.3C737.5 439.5 736.5 439.4 735.7 439.4C734.8 439.5 733.9 439.4 733.2 439.5C732.5 439.6 731.9 439.7 731.2 440C730.6 440.3 729.9 440.7 729.3 441.3C728.6 441.9 728 442.7 727.4 443.5C726.8 444.3 726.2 445.5 725.5 446.2C724.9 446.9 724.4 447.5 723.6 447.9C722.8 448.2 721.7 448.5 720.9 448.2C720.1 448 719.4 447.4 718.8 446.6C718.1 445.7 717.6 444.6 717 443.3C716.5 442 716.1 439.6 715.4 438.6C714.7 437.5 713.6 437.6 712.8 437C711.9 436.3 710.8 435.6 710.4 434.5C709.9 433.5 709.7 431.8 710 430.7C710.3 429.5 711.2 428.1 712.1 427.6C713.1 427.2 714.6 427.5 715.7 428.1C716.8 428.6 717.8 429.6 718.5 430.8C719.2 432 719.3 433.9 719.7 435.1C720.2 436.3 720.6 437.2 721.4 437.8C722.2 438.4 723.6 439.1 724.4 438.7C725.3 438.3 726.3 436.9 726.5 435.2C726.7 433.5 726.6 430.6 725.6 428.7C724.6 426.8 722.4 424.6 720.5 423.6C718.6 422.5 716.1 422.3 714.3 422.2C712.6 422.1 711.5 422.3 710 423.1C708.6 423.8 706.7 425.1 705.6 426.6C704.5 428.2 703.7 430.8 703.4 432.6C703.2 434.5 703.6 436.2 704.2 437.8C704.7 439.3 705.8 440.8 706.9 442.1C708.1 443.4 710 444.4 711.1 445.5C712.3 446.5 713.5 447.5 713.9 448.5C714.2 449.4 713.9 450.7 713.4 451.4C712.9 452 711.8 452.2 711 452.3C710.1 452.4 709.1 452.2 708.3 452.1C707.4 452 706.6 451.8 705.9 451.8C705.1 451.8 704.5 451.8 703.9 452C703.2 452.2 702.4 452.6 701.7 453.1C701 453.5 700.3 454.2 699.6 454.9C698.8 455.6 698.1 456.7 697.3 457.3C696.6 457.9 696 458.5 695.2 458.7C694.3 458.9 693.2 459 692.4 458.7C691.7 458.3 691.1 457.6 690.6 456.7C690.1 455.8 689.7 454.6 689.3 453.2C689 451.8 689 449.4 688.4 448.3C687.9 447.1 686.8 447.1 686 446.3C685.3 445.5 684.3 444.7 684 443.5C683.7 442.4 683.8 440.7 684.3 439.7C684.7 438.6 685.8 437.3 686.8 437C687.8 436.7 689.3 437.3 690.3 437.9C691.3 438.6 692.1 439.8 692.6 441.1C693.1 442.3 692.9 444.3 693.2 445.5C693.5 446.7 693.8 447.7 694.5 448.4C695.1 449.1 696.4 450.1 697.3 449.8C698.2 449.5 699.4 448.2 699.8 446.6C700.3 445 700.5 442.1 699.8 440C699.1 438 697.3 435.6 695.6 434.2C693.9 432.9 691.4 432.3 689.8 431.9C688.1 431.6 687 431.6 685.4 432.2C683.9 432.7 681.9 433.6 680.5 435.1C679.2 436.5 677.9 438.8 677.4 440.6C676.9 442.4 677 444.2 677.3 445.8C677.7 447.5 678.5 449.1 679.5 450.5C680.4 452 682.1 453.3 683.1 454.5C684.1 455.7 685.2 456.8 685.4 457.8C685.6 458.9 685.1 460.1 684.5 460.6C683.9 461.2 682.8 461.3 681.9 461.3C681.1 461.2 680.2 460.8 679.3 460.6C678.5 460.4 677.7 460.1 677 460C676.2 459.9 675.7 459.8 675 459.9C674.2 460 673.5 460.3 672.7 460.7C671.9 461 671.1 461.6 670.3 462.2C669.5 462.8 668.7 463.8 667.9 464.3C667.1 464.8 666.4 465.3 665.6 465.4C664.8 465.5 663.7 465.4 663 465C662.3 464.6 661.8 463.8 661.4 462.8C661 461.9 660.8 460.6 660.6 459.2C660.4 457.8 660.6 455.4 660.2 454.2C659.8 453 658.8 452.9 658.1 452C657.5 451.1 656.6 450.1 656.5 449C656.3 447.9 656.5 446.2 657.1 445.2C657.7 444.1 658.9 443 660 442.8C661 442.6 662.5 443.4 663.3 444.2C664.2 445 664.9 446.3 665.3 447.6C665.6 448.9 665.2 450.8 665.3 452C665.5 453.3 665.6 454.3 666.1 455C666.7 455.8 667.9 457 668.8 456.8C669.7 456.6 671.1 455.6 671.7 454C672.4 452.5 673.1 449.7 672.6 447.5C672.2 445.4 670.7 442.7 669.2 441.2C667.7 439.6 665.3 438.7 663.6 438.1C661.9 437.6 660.8 437.5 659.2 437.9C657.6 438.2 655.4 438.9 653.9 440.2C652.5 441.4 651 443.6 650.3 445.4C649.6 447.1 649.6 448.8 649.7 450.5C649.9 452.2 650.5 453.9 651.3 455.4C652.1 457 653.6 458.4 654.4 459.8C655.3 461.1 656.2 462.3 656.3 463.4C656.4 464.4 655.8 465.5 655.1 466C654.5 466.5 653.4 466.4 652.6 466.3C651.8 466.2 650.9 465.7 650.2 465.4C649.4 465.1 648.6 464.7 647.9 464.5C647.2 464.3 646.7 464.2 646 464.2C645.3 464.3 644.5 464.4 643.7 464.7C642.9 465 642.1 465.5 641.3 466C640.4 466.5 639.5 467.4 638.6 467.8C637.8 468.2 637.1 468.6 636.3 468.6C635.4 468.6 634.4 468.4 633.7 467.9C633.1 467.4 632.7 466.6 632.4 465.5C632.2 464.5 632.1 463.3 632.1 461.9C632.1 460.4 632.6 458.1 632.4 456.8C632.1 455.6 631.1 455.3 630.6 454.4C630.1 453.4 629.4 452.4 629.4 451.2C629.4 450.1 629.8 448.4 630.5 447.5C631.2 446.5 632.5 445.5 633.5 445.5C634.5 445.5 635.8 446.4 636.5 447.3C637.3 448.2 637.8 449.6 638 450.9C638.1 452.2 637.5 454.1 637.5 455.3C637.5 456.6 637.5 457.6 638 458.4C638.5 459.3 639.5 460.5 640.4 460.5C641.3 460.4 642.7 459.5 643.5 458C644.3 456.6 645.2 453.8 645 451.7C644.9 449.5 643.7 446.7 642.4 445C641.1 443.2 638.9 442.1 637.4 441.3C635.9 440.6 634.9 440.4 633.3 440.5C631.7 440.6 629.6 441.1 628.1 442.1C626.5 443.2 624.8 445.2 623.9 446.8C623 448.4 622.7 450.1 622.7 451.8C622.6 453.5 623 455.2 623.5 456.9C624.1 458.5 625.4 460.2 626 461.6C626.6 463 627.4 464.4 627.3 465.4C627.3 466.5 626.5 467.5 625.9 467.9C625.2 468.3 624.1 468.1 623.3 467.9C622.5 467.7 621.7 467 621 466.6C620.3 466.2 619.6 465.7 618.9 465.4C618.3 465.1 617.8 464.9 617.1 464.8C616.4 464.8 615.6 464.8 614.8 465C613.9 465.2 613.1 465.6 612.2 465.9C611.3 466.3 610.2 467 609.3 467.3C608.4 467.6 607.6 467.9 606.8 467.8C606 467.7 605 467.3 604.4 466.7C603.8 466.1 603.6 465.3 603.4 464.2C603.3 463.2 603.4 462 603.6 460.5C603.8 459.1 604.7 456.9 604.6 455.6C604.5 454.3 603.5 453.9 603.1 452.9C602.8 451.9 602.2 450.7 602.3 449.6C602.5 448.4 603.1 446.9 604 446.1C604.8 445.2 606.3 444.4 607.3 444.5C608.3 444.6 609.5 445.7 610.1 446.7C610.7 447.7 611.1 449.2 611 450.5C611 451.9 610.1 453.6 610 454.8C609.8 456.1 609.6 457 610 457.9C610.3 458.9 611.1 460.3 612.1 460.3C613 460.4 614.5 459.7 615.5 458.4C616.5 457 617.8 454.5 617.9 452.3C618.1 450.1 617.3 447.2 616.3 445.3C615.3 443.4 613.3 441.9 611.8 440.9C610.4 440 609.4 439.6 607.8 439.6C606.2 439.5 604 439.6 602.2 440.4C600.5 441.2 598.5 443 597.3 444.5C596.2 445.9 595.6 447.6 595.4 449.3C595.1 450.9 595.2 452.7 595.6 454.4C595.9 456.1 597 457.9 597.5 459.4C597.9 460.9 598.5 462.4 598.3 463.4C598.2 464.4 597.2 465.3 596.5 465.7C595.8 466 594.7 465.6 593.9 465.3C593.1 465 592.4 464.2 591.8 463.7C591.1 463.2 590.4 462.7 589.8 462.3C589.2 461.9 588.7 461.6 588 461.4C587.3 461.3 586.4 461.2 585.6 461.3C584.7 461.4 583.8 461.6 582.8 461.9C581.8 462.1 580.6 462.7 579.7 462.8C578.7 463 577.9 463.2 577.1 463C576.3 462.8 575.3 462.3 574.8 461.6C574.3 460.9 574.1 460 574.1 459C574.1 457.9 574.4 456.7 574.7 455.3C575.1 453.9 576.3 451.8 576.4 450.6C576.4 449.3 575.5 448.8 575.3 447.7C575 446.7 574.6 445.4 574.9 444.3C575.1 443.2 576 441.8 577 441C577.9 440.3 579.5 439.7 580.5 440C581.5 440.2 582.6 441.4 583.1 442.5C583.6 443.6 583.8 445.1 583.6 446.4C583.4 447.7 582.3 449.3 581.9 450.5C581.6 451.7 581.3 452.7 581.6 453.6C581.8 454.6 582.5 456.1 583.4 456.3C584.3 456.5 586 456 587.2 454.8C588.3 453.6 590 451.2 590.4 449.1C590.8 446.9 590.4 443.9 589.6 441.9C588.8 439.9 586.9 438.2 585.6 437C584.3 435.9 583.3 435.4 581.7 435.1C580.1 434.8 577.8 434.6 575.9 435.2C574.1 435.8 571.8 437.2 570.5 438.5C569.1 439.9 568.4 441.4 567.9 443C567.4 444.7 567.3 446.5 567.5 448.2C567.6 449.9 568.5 451.9 568.7 453.4C569 455 569.4 456.5 569.1 457.5C568.8 458.5 567.7 459.3 566.9 459.5C566.2 459.7 565.2 459.2 564.4 458.8C563.7 458.3 563.1 457.5 562.5 456.9C561.9 456.4 561.3 455.7 560.7 455.3C560.2 454.8 559.7 454.5 559 454.2" fill="none" stroke="#8b5e3c" stroke-width="1.4" stroke-linejoin="round" stroke-linecap="round"/>
<path d="M559 454.2C558.4 454 557.6 453.8 556.7 453.8C555.9 453.8 554.9 453.9 553.9 454.1C552.9 454.2 551.7 454.6 550.8 454.7C549.8 454.8 549 454.9 548.3 454.6C547.5 454.3 546.6 453.7 546.2 453C545.7 452.3 545.7 451.4 545.8 450.4C545.9 449.3 546.2 448.1 546.7 446.8C547.2 445.4 548.6 443.5 548.8 442.2C549 440.9 548.1 440.3 547.9 439.3C547.7 438.2 547.4 436.9 547.8 435.8C548.2 434.7 549.1 433.4 550.2 432.7C551.2 432.1 552.9 431.7 553.9 432C554.9 432.4 555.9 433.7 556.3 434.8C556.7 436 556.7 437.5 556.4 438.8C556.1 440.1 554.8 441.6 554.3 442.7C553.9 443.9 553.5 444.8 553.6 445.8C553.8 446.7 554.3 448.3 555.2 448.6C556.1 448.9 557.7 448.6 559 447.5C560.3 446.5 562.3 444.3 563 442.2C563.6 440.2 563.6 437.1 563 435C562.4 432.9 560.7 430.9 559.4 429.7C558.2 428.4 557.2 427.8 555.5 427.3C553.9 426.8 551.5 426.4 549.5 426.8C547.5 427.2 545.1 428.5 543.6 429.7C542.2 430.9 541.4 432.5 540.8 434C540.2 435.6 540 437.4 540 439.1C540.1 440.9 540.8 442.9 541 444.4C541.1 446 541.4 447.5 541 448.5C540.6 449.5 539.5 450.2 538.8 450.3C538 450.5 537.1 450 536.4 449.5C535.7 449 535.1 448.2 534.6 447.6C534 447 533.4 446.3 532.9 445.8C532.5 445.3 532.1 445.1 531.6 444.6C531.1 444.1 530.7 443.4 530.2 442.8" fill="none" stroke="#2e3192" stroke-width="1.4" stroke-linejoin="round" stroke-linecap="round"/>
<text y="49.9" font-size="45.2" fill="#000"><tspan x="134.4" textLength="23.09" lengthAdjust="spacingAndGlyphs">L</tspan><tspan x="157.3" textLength="33.38" lengthAdjust="spacingAndGlyphs">D</tspan><tspan x="192.4" textLength="22.38" lengthAdjust="spacingAndGlyphs">L</tspan></text>
<text y="393" font-size="45.2" fill="#000"><tspan x="387.8" textLength="22.85" lengthAdjust="spacingAndGlyphs">L</tspan><tspan x="410.7" textLength="28.24" lengthAdjust="spacingAndGlyphs">p</tspan><tspan x="441.7" textLength="13.33" lengthAdjust="spacingAndGlyphs">(</tspan><tspan x="456.3" textLength="28.06" lengthAdjust="spacingAndGlyphs">a</tspan><tspan x="488" textLength="15.10" lengthAdjust="spacingAndGlyphs">)</tspan></text>
<text x="403" y="70.7" font-size="19.2" fill="#ed1c24" textLength="65.5" lengthAdjust="spacingAndGlyphs">Apo(a)</text>
<text x="136.7" y="197" font-size="16" fill="#000" textLength="115" lengthAdjust="spacingAndGlyphs">Low-density</text>
<text x="136" y="220.2" font-size="16" fill="#000" textLength="104.3" lengthAdjust="spacingAndGlyphs">lipoprotein</text>
<text x="136.5" y="243.6" font-size="16" fill="#000" textLength="49" lengthAdjust="spacingAndGlyphs">(LDL)</text>
<text x="583.9" y="197" font-size="16" fill="#000" textLength="115" lengthAdjust="spacingAndGlyphs">Low-density</text>
<text x="583.2" y="220.2" font-size="16" fill="#000" textLength="104.3" lengthAdjust="spacingAndGlyphs">lipoprotein</text>
<text x="583.7" y="243.6" font-size="16" fill="#000" textLength="49" lengthAdjust="spacingAndGlyphs">(LDL)</text>
<text x="103" y="341.8" font-size="16" fill="#10107c" textLength="69.8" lengthAdjust="spacingAndGlyphs">ApoB100</text>
<text x="544.8" y="343" font-size="16" fill="#10107c" textLength="69.8" lengthAdjust="spacingAndGlyphs">ApoB100</text>
<path d="M0.5 0.5V479.5H868.5V0.5Z" fill="none" stroke="#000" stroke-width="1"/>
</svg></body></html>
